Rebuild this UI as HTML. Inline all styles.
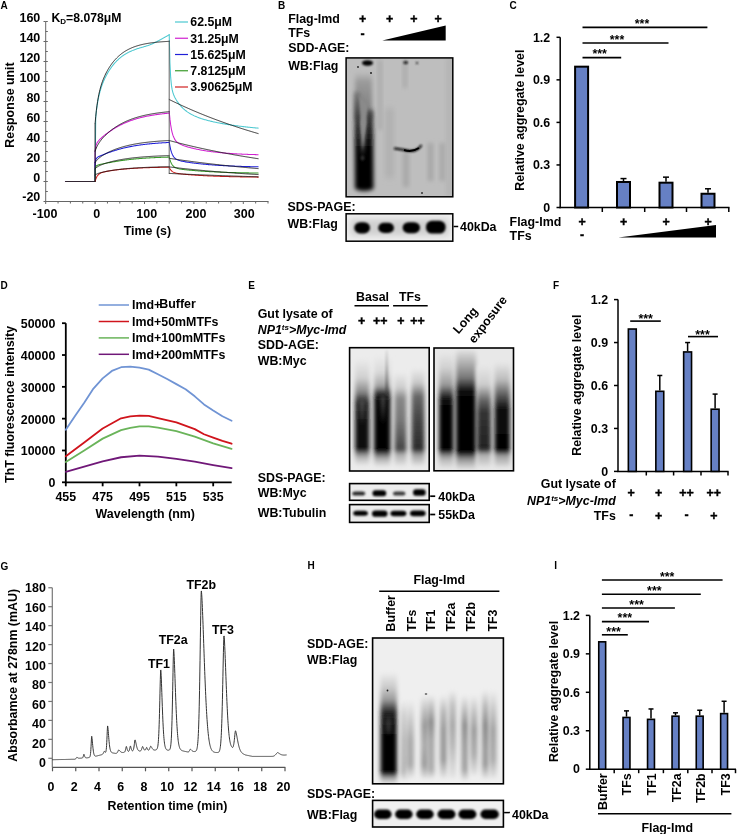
<!DOCTYPE html>
<html><head><meta charset="utf-8"><style>
html,body{margin:0;padding:0;background:#fff;width:737px;height:834px;overflow:hidden;}
svg{display:block;font-family:"Liberation Sans", sans-serif;will-change:transform;}
</style></head><body>
<svg width="737" height="834" viewBox="0 0 737 834">
<text x="0.50" y="9.00" font-size="10" font-weight="bold" text-anchor="start" fill="#000" >A</text>
<line x1="45.70" y1="21.50" x2="45.70" y2="201.50" stroke="#666" stroke-width="1" />
<line x1="45.20" y1="201.50" x2="268.50" y2="201.50" stroke="#666" stroke-width="1" />
<line x1="45.70" y1="201.50" x2="47.80" y2="201.50" stroke="#666" stroke-width="1" />
<line x1="45.70" y1="191.50" x2="47.80" y2="191.50" stroke="#666" stroke-width="1" />
<line x1="45.70" y1="181.50" x2="47.80" y2="181.50" stroke="#666" stroke-width="1" />
<line x1="45.70" y1="171.50" x2="47.80" y2="171.50" stroke="#666" stroke-width="1" />
<line x1="45.70" y1="161.50" x2="47.80" y2="161.50" stroke="#666" stroke-width="1" />
<line x1="45.70" y1="151.50" x2="47.80" y2="151.50" stroke="#666" stroke-width="1" />
<line x1="45.70" y1="141.50" x2="47.80" y2="141.50" stroke="#666" stroke-width="1" />
<line x1="45.70" y1="131.50" x2="47.80" y2="131.50" stroke="#666" stroke-width="1" />
<line x1="45.70" y1="121.50" x2="47.80" y2="121.50" stroke="#666" stroke-width="1" />
<line x1="45.70" y1="111.50" x2="47.80" y2="111.50" stroke="#666" stroke-width="1" />
<line x1="45.70" y1="101.50" x2="47.80" y2="101.50" stroke="#666" stroke-width="1" />
<line x1="45.70" y1="91.50" x2="47.80" y2="91.50" stroke="#666" stroke-width="1" />
<line x1="45.70" y1="81.50" x2="47.80" y2="81.50" stroke="#666" stroke-width="1" />
<line x1="45.70" y1="71.50" x2="47.80" y2="71.50" stroke="#666" stroke-width="1" />
<line x1="45.70" y1="61.50" x2="47.80" y2="61.50" stroke="#666" stroke-width="1" />
<line x1="45.70" y1="51.50" x2="47.80" y2="51.50" stroke="#666" stroke-width="1" />
<line x1="45.70" y1="41.50" x2="47.80" y2="41.50" stroke="#666" stroke-width="1" />
<line x1="45.70" y1="31.50" x2="47.80" y2="31.50" stroke="#666" stroke-width="1" />
<line x1="45.70" y1="21.50" x2="47.80" y2="21.50" stroke="#666" stroke-width="1" />
<line x1="43.50" y1="201.50" x2="45.70" y2="201.50" stroke="#666" stroke-width="1" />
<text x="40.30" y="200.60" font-size="12.5" font-weight="bold" text-anchor="end" fill="#000" >-20</text>
<line x1="43.50" y1="181.50" x2="45.70" y2="181.50" stroke="#666" stroke-width="1" />
<text x="40.30" y="182.30" font-size="12.5" font-weight="bold" text-anchor="end" fill="#000" >0</text>
<line x1="43.50" y1="161.50" x2="45.70" y2="161.50" stroke="#666" stroke-width="1" />
<text x="40.30" y="162.30" font-size="12.5" font-weight="bold" text-anchor="end" fill="#000" >20</text>
<line x1="43.50" y1="141.50" x2="45.70" y2="141.50" stroke="#666" stroke-width="1" />
<text x="40.30" y="142.30" font-size="12.5" font-weight="bold" text-anchor="end" fill="#000" >40</text>
<line x1="43.50" y1="121.50" x2="45.70" y2="121.50" stroke="#666" stroke-width="1" />
<text x="40.30" y="122.30" font-size="12.5" font-weight="bold" text-anchor="end" fill="#000" >60</text>
<line x1="43.50" y1="101.50" x2="45.70" y2="101.50" stroke="#666" stroke-width="1" />
<text x="40.30" y="102.30" font-size="12.5" font-weight="bold" text-anchor="end" fill="#000" >80</text>
<line x1="43.50" y1="81.50" x2="45.70" y2="81.50" stroke="#666" stroke-width="1" />
<text x="40.30" y="82.30" font-size="12.5" font-weight="bold" text-anchor="end" fill="#000" >100</text>
<line x1="43.50" y1="61.50" x2="45.70" y2="61.50" stroke="#666" stroke-width="1" />
<text x="40.30" y="62.30" font-size="12.5" font-weight="bold" text-anchor="end" fill="#000" >120</text>
<line x1="43.50" y1="41.50" x2="45.70" y2="41.50" stroke="#666" stroke-width="1" />
<text x="40.30" y="42.30" font-size="12.5" font-weight="bold" text-anchor="end" fill="#000" >140</text>
<line x1="43.50" y1="21.50" x2="45.70" y2="21.50" stroke="#666" stroke-width="1" />
<text x="40.30" y="22.30" font-size="12.5" font-weight="bold" text-anchor="end" fill="#000" >160</text>
<line x1="45.70" y1="201.50" x2="45.70" y2="204.00" stroke="#666" stroke-width="1" />
<line x1="58.05" y1="201.50" x2="58.05" y2="203.50" stroke="#666" stroke-width="1" />
<line x1="70.40" y1="201.50" x2="70.40" y2="203.50" stroke="#666" stroke-width="1" />
<line x1="82.75" y1="201.50" x2="82.75" y2="203.50" stroke="#666" stroke-width="1" />
<line x1="95.10" y1="201.50" x2="95.10" y2="204.00" stroke="#666" stroke-width="1" />
<line x1="107.45" y1="201.50" x2="107.45" y2="203.50" stroke="#666" stroke-width="1" />
<line x1="119.80" y1="201.50" x2="119.80" y2="203.50" stroke="#666" stroke-width="1" />
<line x1="132.15" y1="201.50" x2="132.15" y2="203.50" stroke="#666" stroke-width="1" />
<line x1="144.50" y1="201.50" x2="144.50" y2="204.00" stroke="#666" stroke-width="1" />
<line x1="156.85" y1="201.50" x2="156.85" y2="203.50" stroke="#666" stroke-width="1" />
<line x1="169.20" y1="201.50" x2="169.20" y2="203.50" stroke="#666" stroke-width="1" />
<line x1="181.55" y1="201.50" x2="181.55" y2="203.50" stroke="#666" stroke-width="1" />
<line x1="193.90" y1="201.50" x2="193.90" y2="204.00" stroke="#666" stroke-width="1" />
<line x1="206.25" y1="201.50" x2="206.25" y2="203.50" stroke="#666" stroke-width="1" />
<line x1="218.60" y1="201.50" x2="218.60" y2="203.50" stroke="#666" stroke-width="1" />
<line x1="230.95" y1="201.50" x2="230.95" y2="203.50" stroke="#666" stroke-width="1" />
<line x1="243.30" y1="201.50" x2="243.30" y2="204.00" stroke="#666" stroke-width="1" />
<line x1="255.65" y1="201.50" x2="255.65" y2="203.50" stroke="#666" stroke-width="1" />
<line x1="268.00" y1="201.50" x2="268.00" y2="203.50" stroke="#666" stroke-width="1" />
<text x="45.00" y="218.40" font-size="12.5" font-weight="bold" text-anchor="middle" fill="#000" >-100</text>
<text x="96.70" y="218.40" font-size="12.5" font-weight="bold" text-anchor="middle" fill="#000" >0</text>
<text x="146.70" y="218.40" font-size="12.5" font-weight="bold" text-anchor="middle" fill="#000" >100</text>
<text x="196.00" y="218.40" font-size="12.5" font-weight="bold" text-anchor="middle" fill="#000" >200</text>
<text x="244.30" y="218.40" font-size="12.5" font-weight="bold" text-anchor="middle" fill="#000" >300</text>
<text x="147.40" y="234.50" font-size="12.4" font-weight="bold" text-anchor="middle" fill="#000" >Time (s)</text>
<text transform="translate(14.00,105.00) rotate(-90)" font-size="12.4" font-weight="bold" text-anchor="middle" >Response unit</text>
<text x="51.5" y="21.5" font-size="12.2" font-weight="bold">K<tspan font-size="8" dy="2.5">D</tspan><tspan dy="-2.5">=8.078μM</tspan></text>
<line x1="175.00" y1="22.00" x2="188.00" y2="22.00" stroke="#4cc8d0" stroke-width="1.2" />
<text x="190.30" y="26.30" font-size="12.3" font-weight="bold" text-anchor="start" fill="#000" >62.5μM</text>
<line x1="175.00" y1="38.25" x2="188.00" y2="38.25" stroke="#d020d0" stroke-width="1.2" />
<text x="190.30" y="42.55" font-size="12.3" font-weight="bold" text-anchor="start" fill="#000" >31.25μM</text>
<line x1="175.00" y1="54.50" x2="188.00" y2="54.50" stroke="#2020d8" stroke-width="1.2" />
<text x="190.30" y="58.80" font-size="12.3" font-weight="bold" text-anchor="start" fill="#000" >15.625μM</text>
<line x1="175.00" y1="70.75" x2="188.00" y2="70.75" stroke="#3a9a2a" stroke-width="1.2" />
<text x="190.30" y="75.05" font-size="12.3" font-weight="bold" text-anchor="start" fill="#000" >7.8125μM</text>
<line x1="175.00" y1="87.00" x2="188.00" y2="87.00" stroke="#d02020" stroke-width="1.2" />
<text x="190.30" y="91.30" font-size="12.3" font-weight="bold" text-anchor="start" fill="#000" >3.90625μM</text>
<polyline points="65.46,181.50 95.10,181.50" fill="none" stroke="#b040b0" stroke-width="1.2" stroke-linejoin="round" stroke-linecap="round" />
<polyline points="95.10,181.50 95.10,181.50 95.72,117.83 96.33,111.46 96.95,106.82 97.57,102.87 98.19,99.45 98.80,96.47 99.42,93.82 100.04,91.46 100.66,89.32 101.27,87.36 101.89,85.55 102.51,83.87 103.13,82.30 103.74,80.83 104.36,79.43 104.98,78.10 105.60,76.84 106.21,75.64 106.83,74.48 107.45,73.38 108.07,72.32 108.68,71.30 109.30,70.32 109.92,69.37 110.54,68.46 111.16,67.58 111.77,66.74 112.39,65.92 113.01,65.14 113.62,64.38 114.24,63.65 114.86,62.94 115.48,62.26 116.09,61.60 116.71,60.97 117.33,60.36 117.95,59.76 118.56,59.19 119.18,58.64 119.80,58.11 120.42,57.60 121.03,57.11 121.65,56.63 122.27,56.17 122.89,55.72 123.50,55.29 124.12,54.88 124.74,54.48 125.36,54.10 125.97,53.72 126.59,53.36 127.21,53.02 127.83,52.68 128.44,52.36 129.06,52.05 129.68,51.74 130.30,51.45 130.91,51.17 131.53,50.90 132.15,50.64 132.77,50.38 133.38,50.14 134.00,49.90 134.62,49.67 135.24,49.44 135.85,49.23 136.47,49.02 137.09,48.81 137.71,48.61 138.32,48.42 138.94,48.22 139.56,48.04 140.18,47.85 140.79,47.67 141.41,47.49 142.03,47.32 142.65,47.14 143.26,46.96 143.88,46.78 144.50,46.60 145.12,46.42 145.73,46.23 146.35,46.04 146.97,45.84 147.59,45.64 148.20,45.43 148.82,45.21 149.44,44.98 150.06,44.75 150.68,44.50 151.29,44.25 151.91,43.99 152.53,43.71 153.14,43.44 153.76,43.15 154.38,42.85 155.00,42.55 155.62,42.24 156.23,41.93 156.85,41.61 157.47,41.28 158.08,40.95 158.70,40.62 159.32,40.29 159.94,39.95 160.56,39.61 161.17,39.27 161.79,38.93 162.41,38.59 163.02,38.24 163.64,37.90 164.26,37.56 164.88,37.21 165.50,36.87 166.11,36.53 166.73,36.19 167.35,35.84 167.96,35.50 168.58,35.16 169.20,34.82" fill="none" stroke="#4cc8d0" stroke-width="1.05" stroke-linejoin="round" stroke-linecap="round" />
<polyline points="169.20,34.50 169.94,62.99 170.68,77.42 171.42,85.15 172.16,89.66 172.90,92.60 173.65,94.74 174.39,96.46 175.13,97.94 175.87,99.27 176.61,100.48 177.35,101.61 178.09,102.67 178.83,103.67 179.57,104.60 180.31,105.49 181.06,106.32 181.80,107.11 182.54,107.85 183.28,108.56 184.02,109.23 184.76,109.87 185.50,110.47 186.24,111.04 186.98,111.59 187.72,112.11 188.47,112.60 189.21,113.07 189.95,113.53 190.69,113.96 191.43,114.37 192.17,114.77 192.91,115.14 193.65,115.51 194.39,115.86 195.13,116.19 195.88,116.52 196.62,116.83 197.36,117.13 198.10,117.42 198.84,117.70 199.58,117.97 200.32,118.23 201.06,118.49 201.80,118.73 202.54,118.97 203.29,119.20 204.03,119.43 204.77,119.65 205.51,119.86 206.25,120.07 206.99,120.27 207.73,120.46 208.47,120.66 209.21,120.84 209.95,121.03 210.70,121.21 211.44,121.38 212.18,121.55 212.92,121.72 213.66,121.89 214.40,122.05 215.14,122.20 215.88,122.36 216.62,122.51 217.37,122.66 218.11,122.81 218.85,122.95 219.59,123.09 220.33,123.23 221.07,123.36 221.81,123.50 222.55,123.63 223.29,123.76 224.03,123.89 224.78,124.01 225.52,124.13 226.26,124.26 227.00,124.38 227.74,124.49 228.48,124.61 229.22,124.72 229.96,124.84 230.70,124.95 231.44,125.06 232.19,125.16 232.93,125.27 233.67,125.37 234.41,125.48 235.15,125.58 235.89,125.68 236.63,125.78 237.37,125.88 238.11,125.97 238.85,126.07 239.59,126.16 240.34,126.25 241.08,126.34 241.82,126.43 242.56,126.52 243.30,126.61 244.04,126.70 244.78,126.78 245.52,126.87 246.26,126.95 247.00,127.03 247.75,127.11 248.49,127.19 249.23,127.27 249.97,127.35 250.71,127.43 251.45,127.50 252.19,127.58 252.93,127.65 253.67,127.72 254.41,127.80 255.16,127.87 255.90,127.94 256.64,128.01 257.38,128.07 258.12,128.14" fill="none" stroke="#4cc8d0" stroke-width="1.05" stroke-linejoin="round" stroke-linecap="round" />
<polyline points="95.10,181.50 95.10,151.20 95.72,146.91 96.33,144.60 96.95,143.14 97.57,142.09 98.19,141.24 98.80,140.49 99.42,139.82 100.04,139.19 100.66,138.60 101.27,138.03 101.89,137.49 102.51,136.96 103.13,136.44 103.74,135.94 104.36,135.45 104.98,134.96 105.60,134.48 106.21,134.02 106.83,133.55 107.45,133.10 108.07,132.65 108.68,132.21 109.30,131.78 109.92,131.35 110.54,130.93 111.16,130.51 111.77,130.10 112.39,129.70 113.01,129.31 113.62,128.92 114.24,128.54 114.86,128.16 115.48,127.80 116.09,127.43 116.71,127.08 117.33,126.73 117.95,126.39 118.56,126.05 119.18,125.72 119.80,125.40 120.42,125.09 121.03,124.77 121.65,124.47 122.27,124.17 122.89,123.88 123.50,123.59 124.12,123.31 124.74,123.04 125.36,122.77 125.97,122.51 126.59,122.25 127.21,121.99 127.83,121.75 128.44,121.50 129.06,121.27 129.68,121.03 130.30,120.81 130.91,120.58 131.53,120.37 132.15,120.15 132.77,119.95 133.38,119.74 134.00,119.54 134.62,119.35 135.24,119.15 135.85,118.97 136.47,118.78 137.09,118.61 137.71,118.43 138.32,118.26 138.94,118.09 139.56,117.93 140.18,117.77 140.79,117.61 141.41,117.46 142.03,117.31 142.65,117.16 143.26,117.02 143.88,116.88 144.50,116.74 145.12,116.60 145.73,116.47 146.35,116.34 146.97,116.22 147.59,116.10 148.20,115.98 148.82,115.86 149.44,115.74 150.06,115.63 150.68,115.52 151.29,115.41 151.91,115.31 152.53,115.21 153.14,115.11 153.76,115.01 154.38,114.91 155.00,114.82 155.62,114.73 156.23,114.64 156.85,114.55 157.47,114.46 158.08,114.38 158.70,114.30 159.32,114.22 159.94,114.14 160.56,114.06 161.17,113.99 161.79,113.91 162.41,113.84 163.02,113.77 163.64,113.70 164.26,113.63 164.88,113.57 165.50,113.51 166.11,113.44 166.73,113.38 167.35,113.32 167.96,113.26 168.58,113.21 169.20,113.15" fill="none" stroke="#d020d0" stroke-width="1.05" stroke-linejoin="round" stroke-linecap="round" />
<polyline points="169.20,111.50 169.94,119.15 170.68,124.91 171.42,129.27 172.16,132.59 172.90,135.13 173.65,137.10 174.39,138.64 175.13,139.86 175.87,140.84 176.61,141.65 177.35,142.31 178.09,142.88 178.83,143.37 179.57,143.81 180.31,144.19 181.06,144.54 181.80,144.87 182.54,145.17 183.28,145.46 184.02,145.73 184.76,145.98 185.50,146.23 186.24,146.47 186.98,146.70 187.72,146.92 188.47,147.14 189.21,147.34 189.95,147.55 190.69,147.75 191.43,147.94 192.17,148.13 192.91,148.31 193.65,148.49 194.39,148.66 195.13,148.83 195.88,148.99 196.62,149.16 197.36,149.31 198.10,149.46 198.84,149.61 199.58,149.76 200.32,149.90 201.06,150.04 201.80,150.17 202.54,150.31 203.29,150.43 204.03,150.56 204.77,150.68 205.51,150.80 206.25,150.92 206.99,151.03 207.73,151.14 208.47,151.25 209.21,151.35 209.95,151.45 210.70,151.55 211.44,151.65 212.18,151.75 212.92,151.84 213.66,151.93 214.40,152.02 215.14,152.10 215.88,152.19 216.62,152.27 217.37,152.35 218.11,152.43 218.85,152.50 219.59,152.58 220.33,152.65 221.07,152.72 221.81,152.79 222.55,152.86 223.29,152.92 224.03,152.98 224.78,153.05 225.52,153.11 226.26,153.17 227.00,153.22 227.74,153.28 228.48,153.33 229.22,153.39 229.96,153.44 230.70,153.49 231.44,153.54 232.19,153.59 232.93,153.64 233.67,153.68 234.41,153.73 235.15,153.77 235.89,153.81 236.63,153.86 237.37,153.90 238.11,153.94 238.85,153.97 239.59,154.01 240.34,154.05 241.08,154.08 241.82,154.12 242.56,154.15 243.30,154.19 244.04,154.22 244.78,154.25 245.52,154.28 246.26,154.31 247.00,154.34 247.75,154.37 248.49,154.40 249.23,154.42 249.97,154.45 250.71,154.48 251.45,154.50 252.19,154.53 252.93,154.55 253.67,154.57 254.41,154.60 255.16,154.62 255.90,154.64 256.64,154.66 257.38,154.68 258.12,154.70" fill="none" stroke="#d020d0" stroke-width="1.05" stroke-linejoin="round" stroke-linecap="round" />
<polyline points="95.10,181.50 95.10,162.60 95.72,159.92 96.33,158.58 96.95,157.80 97.57,157.28 98.19,156.88 98.80,156.54 99.42,156.23 100.04,155.94 100.66,155.67 101.27,155.41 101.89,155.15 102.51,154.91 103.13,154.66 103.74,154.42 104.36,154.18 104.98,153.95 105.60,153.71 106.21,153.48 106.83,153.25 107.45,153.03 108.07,152.80 108.68,152.58 109.30,152.36 109.92,152.15 110.54,151.93 111.16,151.72 111.77,151.51 112.39,151.31 113.01,151.10 113.62,150.90 114.24,150.71 114.86,150.51 115.48,150.32 116.09,150.13 116.71,149.95 117.33,149.76 117.95,149.58 118.56,149.41 119.18,149.23 119.80,149.06 120.42,148.90 121.03,148.73 121.65,148.57 122.27,148.41 122.89,148.26 123.50,148.11 124.12,147.96 124.74,147.81 125.36,147.67 125.97,147.53 126.59,147.39 127.21,147.25 127.83,147.12 128.44,146.99 129.06,146.87 129.68,146.74 130.30,146.62 130.91,146.50 131.53,146.38 132.15,146.27 132.77,146.16 133.38,146.05 134.00,145.94 134.62,145.83 135.24,145.73 135.85,145.63 136.47,145.53 137.09,145.43 137.71,145.34 138.32,145.25 138.94,145.16 139.56,145.07 140.18,144.98 140.79,144.89 141.41,144.81 142.03,144.73 142.65,144.65 143.26,144.57 143.88,144.50 144.50,144.42 145.12,144.35 145.73,144.28 146.35,144.21 146.97,144.14 147.59,144.07 148.20,144.01 148.82,143.94 149.44,143.88 150.06,143.82 150.68,143.76 151.29,143.70 151.91,143.64 152.53,143.59 153.14,143.53 153.76,143.48 154.38,143.43 155.00,143.37 155.62,143.32 156.23,143.27 156.85,143.23 157.47,143.18 158.08,143.13 158.70,143.09 159.32,143.04 159.94,143.00 160.56,142.96 161.17,142.92 161.79,142.88 162.41,142.84 163.02,142.80 163.64,142.76 164.26,142.73 164.88,142.69 165.50,142.65 166.11,142.62 166.73,142.59 167.35,142.55 167.96,142.52 168.58,142.49 169.20,142.46" fill="none" stroke="#2020d8" stroke-width="1.05" stroke-linejoin="round" stroke-linecap="round" />
<polyline points="169.20,141.50 169.94,146.10 170.68,149.55 171.42,152.15 172.16,154.12 172.90,155.62 173.65,156.78 174.39,157.67 175.13,158.38 175.87,158.94 176.61,159.39 177.35,159.76 178.09,160.08 178.83,160.34 179.57,160.58 180.31,160.79 181.06,160.97 181.80,161.14 182.54,161.30 183.28,161.45 184.02,161.59 184.76,161.73 185.50,161.86 186.24,161.98 186.98,162.11 187.72,162.22 188.47,162.34 189.21,162.45 189.95,162.56 190.69,162.66 191.43,162.77 192.17,162.87 192.91,162.97 193.65,163.06 194.39,163.16 195.13,163.25 195.88,163.34 196.62,163.43 197.36,163.51 198.10,163.60 198.84,163.68 199.58,163.76 200.32,163.84 201.06,163.92 201.80,163.99 202.54,164.07 203.29,164.14 204.03,164.21 204.77,164.28 205.51,164.35 206.25,164.42 206.99,164.48 207.73,164.55 208.47,164.61 209.21,164.67 209.95,164.73 210.70,164.79 211.44,164.85 212.18,164.90 212.92,164.96 213.66,165.01 214.40,165.06 215.14,165.12 215.88,165.17 216.62,165.22 217.37,165.26 218.11,165.31 218.85,165.36 219.59,165.40 220.33,165.45 221.07,165.49 221.81,165.53 222.55,165.58 223.29,165.62 224.03,165.66 224.78,165.70 225.52,165.73 226.26,165.77 227.00,165.81 227.74,165.84 228.48,165.88 229.22,165.91 229.96,165.95 230.70,165.98 231.44,166.01 232.19,166.04 232.93,166.07 233.67,166.10 234.41,166.13 235.15,166.16 235.89,166.19 236.63,166.22 237.37,166.25 238.11,166.27 238.85,166.30 239.59,166.32 240.34,166.35 241.08,166.37 241.82,166.40 242.56,166.42 243.30,166.44 244.04,166.47 244.78,166.49 245.52,166.51 246.26,166.53 247.00,166.55 247.75,166.57 248.49,166.59 249.23,166.61 249.97,166.63 250.71,166.65 251.45,166.67 252.19,166.68 252.93,166.70 253.67,166.72 254.41,166.73 255.16,166.75 255.90,166.77 256.64,166.78 257.38,166.80 258.12,166.81" fill="none" stroke="#2020d8" stroke-width="1.05" stroke-linejoin="round" stroke-linecap="round" />
<polyline points="95.10,181.50 95.10,168.80 95.72,166.93 96.33,166.03 96.95,165.53 97.57,165.21 98.19,164.98 98.80,164.79 99.42,164.63 100.04,164.47 100.66,164.33 101.27,164.20 101.89,164.07 102.51,163.94 103.13,163.82 103.74,163.69 104.36,163.57 104.98,163.45 105.60,163.33 106.21,163.21 106.83,163.09 107.45,162.97 108.07,162.85 108.68,162.73 109.30,162.62 109.92,162.50 110.54,162.39 111.16,162.27 111.77,162.16 112.39,162.05 113.01,161.94 113.62,161.83 114.24,161.72 114.86,161.62 115.48,161.51 116.09,161.41 116.71,161.30 117.33,161.20 117.95,161.11 118.56,161.01 119.18,160.91 119.80,160.82 120.42,160.72 121.03,160.63 121.65,160.54 122.27,160.46 122.89,160.37 123.50,160.28 124.12,160.20 124.74,160.12 125.36,160.04 125.97,159.96 126.59,159.88 127.21,159.81 127.83,159.73 128.44,159.66 129.06,159.59 129.68,159.52 130.30,159.45 130.91,159.38 131.53,159.31 132.15,159.25 132.77,159.19 133.38,159.12 134.00,159.06 134.62,159.00 135.24,158.95 135.85,158.89 136.47,158.83 137.09,158.78 137.71,158.72 138.32,158.67 138.94,158.62 139.56,158.57 140.18,158.52 140.79,158.47 141.41,158.42 142.03,158.38 142.65,158.33 143.26,158.29 143.88,158.25 144.50,158.20 145.12,158.16 145.73,158.12 146.35,158.08 146.97,158.04 147.59,158.00 148.20,157.97 148.82,157.93 149.44,157.89 150.06,157.86 150.68,157.83 151.29,157.79 151.91,157.76 152.53,157.73 153.14,157.70 153.76,157.66 154.38,157.63 155.00,157.61 155.62,157.58 156.23,157.55 156.85,157.52 157.47,157.49 158.08,157.47 158.70,157.44 159.32,157.42 159.94,157.39 160.56,157.37 161.17,157.35 161.79,157.32 162.41,157.30 163.02,157.28 163.64,157.26 164.26,157.23 164.88,157.21 165.50,157.19 166.11,157.17 166.73,157.16 167.35,157.14 167.96,157.12 168.58,157.10 169.20,157.08" fill="none" stroke="#3a9a2a" stroke-width="1.05" stroke-linejoin="round" stroke-linecap="round" />
<polyline points="169.20,156.80 169.94,159.70 170.68,161.88 171.42,163.52 172.16,164.77 172.90,165.72 173.65,166.46 174.39,167.03 175.13,167.47 175.87,167.83 176.61,168.12 177.35,168.37 178.09,168.57 178.83,168.74 179.57,168.89 180.31,169.03 181.06,169.15 181.80,169.27 182.54,169.37 183.28,169.47 184.02,169.56 184.76,169.65 185.50,169.74 186.24,169.82 186.98,169.90 187.72,169.98 188.47,170.06 189.21,170.13 189.95,170.20 190.69,170.28 191.43,170.34 192.17,170.41 192.91,170.48 193.65,170.54 194.39,170.60 195.13,170.67 195.88,170.73 196.62,170.78 197.36,170.84 198.10,170.90 198.84,170.95 199.58,171.01 200.32,171.06 201.06,171.11 201.80,171.16 202.54,171.21 203.29,171.26 204.03,171.31 204.77,171.35 205.51,171.40 206.25,171.44 206.99,171.49 207.73,171.53 208.47,171.57 209.21,171.61 209.95,171.65 210.70,171.69 211.44,171.73 212.18,171.77 212.92,171.81 213.66,171.84 214.40,171.88 215.14,171.91 215.88,171.94 216.62,171.98 217.37,172.01 218.11,172.04 218.85,172.07 219.59,172.10 220.33,172.13 221.07,172.16 221.81,172.19 222.55,172.22 223.29,172.24 224.03,172.27 224.78,172.30 225.52,172.32 226.26,172.35 227.00,172.37 227.74,172.40 228.48,172.42 229.22,172.44 229.96,172.46 230.70,172.49 231.44,172.51 232.19,172.53 232.93,172.55 233.67,172.57 234.41,172.59 235.15,172.61 235.89,172.63 236.63,172.65 237.37,172.66 238.11,172.68 238.85,172.70 239.59,172.72 240.34,172.73 241.08,172.75 241.82,172.77 242.56,172.78 243.30,172.80 244.04,172.81 244.78,172.83 245.52,172.84 246.26,172.85 247.00,172.87 247.75,172.88 248.49,172.89 249.23,172.91 249.97,172.92 250.71,172.93 251.45,172.94 252.19,172.96 252.93,172.97 253.67,172.98 254.41,172.99 255.16,173.00 255.90,173.01 256.64,173.02 257.38,173.03 258.12,173.04" fill="none" stroke="#3a9a2a" stroke-width="1.05" stroke-linejoin="round" stroke-linecap="round" />
<polyline points="95.10,181.50 95.10,181.50 95.72,179.36 96.33,177.75 96.95,176.52 97.57,175.57 98.19,174.83 98.80,174.25 99.42,173.78 100.04,173.41 100.66,173.09 101.27,172.82 101.89,172.59 102.51,172.39 103.13,172.21 103.74,172.04 104.36,171.89 104.98,171.75 105.60,171.62 106.21,171.49 106.83,171.37 107.45,171.25 108.07,171.14 108.68,171.03 109.30,170.93 109.92,170.83 110.54,170.73 111.16,170.63 111.77,170.54 112.39,170.45 113.01,170.36 113.62,170.27 114.24,170.19 114.86,170.10 115.48,170.02 116.09,169.94 116.71,169.87 117.33,169.79 117.95,169.72 118.56,169.65 119.18,169.58 119.80,169.51 120.42,169.44 121.03,169.38 121.65,169.31 122.27,169.25 122.89,169.19 123.50,169.13 124.12,169.08 124.74,169.02 125.36,168.97 125.97,168.91 126.59,168.86 127.21,168.81 127.83,168.76 128.44,168.71 129.06,168.66 129.68,168.62 130.30,168.57 130.91,168.53 131.53,168.49 132.15,168.44 132.77,168.40 133.38,168.36 134.00,168.33 134.62,168.29 135.24,168.25 135.85,168.22 136.47,168.18 137.09,168.15 137.71,168.11 138.32,168.08 138.94,168.05 139.56,168.02 140.18,167.99 140.79,167.96 141.41,167.93 142.03,167.90 142.65,167.88 143.26,167.85 143.88,167.82 144.50,167.80 145.12,167.78 145.73,167.75 146.35,167.73 146.97,167.71 147.59,167.68 148.20,167.66 148.82,167.64 149.44,167.62 150.06,167.60 150.68,167.58 151.29,167.57 151.91,167.55 152.53,167.53 153.14,167.51 153.76,167.50 154.38,167.48 155.00,167.46 155.62,167.45 156.23,167.43 156.85,167.42 157.47,167.41 158.08,167.39 158.70,167.38 159.32,167.37 159.94,167.35 160.56,167.34 161.17,167.33 161.79,167.32 162.41,167.31 163.02,167.30 163.64,167.29 164.26,167.28 164.88,167.27 165.50,167.26 166.11,167.25 166.73,167.24 167.35,167.23 167.96,167.23 168.58,167.22 169.20,167.21" fill="none" stroke="#d02020" stroke-width="1.05" stroke-linejoin="round" stroke-linecap="round" />
<polyline points="169.20,167.40 169.94,168.83 170.68,169.91 171.42,170.74 172.16,171.37 172.90,171.87 173.65,172.26 174.39,172.57 175.13,172.83 175.87,173.03 176.61,173.21 177.35,173.36 178.09,173.49 178.83,173.61 179.57,173.72 180.31,173.82 181.06,173.91 181.80,174.00 182.54,174.08 183.28,174.16 184.02,174.23 184.76,174.30 185.50,174.37 186.24,174.44 186.98,174.51 187.72,174.57 188.47,174.63 189.21,174.69 189.95,174.75 190.69,174.81 191.43,174.87 192.17,174.93 192.91,174.98 193.65,175.03 194.39,175.09 195.13,175.14 195.88,175.19 196.62,175.24 197.36,175.29 198.10,175.33 198.84,175.38 199.58,175.42 200.32,175.47 201.06,175.51 201.80,175.55 202.54,175.59 203.29,175.63 204.03,175.67 204.77,175.71 205.51,175.75 206.25,175.79 206.99,175.82 207.73,175.86 208.47,175.89 209.21,175.93 209.95,175.96 210.70,175.99 211.44,176.03 212.18,176.06 212.92,176.09 213.66,176.12 214.40,176.15 215.14,176.18 215.88,176.20 216.62,176.23 217.37,176.26 218.11,176.28 218.85,176.31 219.59,176.34 220.33,176.36 221.07,176.38 221.81,176.41 222.55,176.43 223.29,176.45 224.03,176.48 224.78,176.50 225.52,176.52 226.26,176.54 227.00,176.56 227.74,176.58 228.48,176.60 229.22,176.62 229.96,176.64 230.70,176.66 231.44,176.67 232.19,176.69 232.93,176.71 233.67,176.72 234.41,176.74 235.15,176.76 235.89,176.77 236.63,176.79 237.37,176.80 238.11,176.82 238.85,176.83 239.59,176.85 240.34,176.86 241.08,176.87 241.82,176.89 242.56,176.90 243.30,176.91 244.04,176.93 244.78,176.94 245.52,176.95 246.26,176.96 247.00,176.97 247.75,176.98 248.49,177.00 249.23,177.01 249.97,177.02 250.71,177.03 251.45,177.04 252.19,177.05 252.93,177.06 253.67,177.07 254.41,177.07 255.16,177.08 255.90,177.09 256.64,177.10 257.38,177.11 258.12,177.12" fill="none" stroke="#d02020" stroke-width="1.05" stroke-linejoin="round" stroke-linecap="round" />
<polyline points="95.10,123.50 95.72,116.49 96.33,110.64 96.95,105.69 97.57,101.47 98.19,97.83 98.80,94.64 99.42,91.83 100.04,89.32 100.66,87.05 101.27,84.99 101.89,83.09 102.51,81.33 103.13,79.70 103.74,78.16 104.36,76.72 104.98,75.35 105.60,74.05 106.21,72.82 106.83,71.64 107.45,70.51 108.07,69.43 108.68,68.39 109.30,67.40 109.92,66.44 110.54,65.52 111.16,64.64 111.77,63.78 112.39,62.96 113.01,62.17 113.62,61.41 114.24,60.67 114.86,59.96 115.48,59.28 116.09,58.62 116.71,57.98 117.33,57.37 117.95,56.77 118.56,56.20 119.18,55.65 119.80,55.12 120.42,54.61 121.03,54.11 121.65,53.63 122.27,53.17 122.89,52.73 123.50,52.30 124.12,51.89 124.74,51.49 125.36,51.10 125.97,50.73 126.59,50.37 127.21,50.02 127.83,49.69 128.44,49.37 129.06,49.06 129.68,48.76 130.30,48.47 130.91,48.19 131.53,47.92 132.15,47.66 132.77,47.41 133.38,47.16 134.00,46.93 134.62,46.70 135.24,46.49 135.85,46.28 136.47,46.07 137.09,45.88 137.71,45.69 138.32,45.51 138.94,45.33 139.56,45.16 140.18,45.00 140.79,44.84 141.41,44.69 142.03,44.54 142.65,44.40 143.26,44.26 143.88,44.13 144.50,44.00 145.12,43.88 145.73,43.76 146.35,43.65 146.97,43.54 147.59,43.43 148.20,43.33 148.82,43.23 149.44,43.13 150.06,43.04 150.68,42.95 151.29,42.87 151.91,42.78 152.53,42.70 153.14,42.62 153.76,42.55 154.38,42.48 155.00,42.41 155.62,42.34 156.23,42.28 156.85,42.22 157.47,42.15 158.08,42.10 158.70,42.04 159.32,41.99 159.94,41.93 160.56,41.88 161.17,41.84 161.79,41.79 162.41,41.74 163.02,41.70 163.64,41.66 164.26,41.62 164.88,41.58 165.50,41.54 166.11,41.50 166.73,41.47 167.35,41.43 167.96,41.40 168.58,41.37 169.20,41.34" fill="none" stroke="#111" stroke-width="0.85" stroke-linejoin="round" stroke-linecap="round" />
<polyline points="169.20,99.50 169.94,99.87 170.68,100.23 171.42,100.59 172.16,100.95 172.90,101.31 173.65,101.67 174.39,102.03 175.13,102.38 175.87,102.73 176.61,103.08 177.35,103.43 178.09,103.78 178.83,104.13 179.57,104.47 180.31,104.82 181.06,105.16 181.80,105.50 182.54,105.84 183.28,106.18 184.02,106.51 184.76,106.85 185.50,107.18 186.24,107.51 186.98,107.84 187.72,108.17 188.47,108.50 189.21,108.82 189.95,109.15 190.69,109.47 191.43,109.79 192.17,110.11 192.91,110.43 193.65,110.75 194.39,111.06 195.13,111.38 195.88,111.69 196.62,112.00 197.36,112.31 198.10,112.62 198.84,112.93 199.58,113.23 200.32,113.54 201.06,113.84 201.80,114.14 202.54,114.44 203.29,114.74 204.03,115.04 204.77,115.33 205.51,115.63 206.25,115.92 206.99,116.22 207.73,116.51 208.47,116.80 209.21,117.09 209.95,117.37 210.70,117.66 211.44,117.94 212.18,118.23 212.92,118.51 213.66,118.79 214.40,119.07 215.14,119.35 215.88,119.63 216.62,119.90 217.37,120.18 218.11,120.45 218.85,120.72 219.59,120.99 220.33,121.26 221.07,121.53 221.81,121.80 222.55,122.07 223.29,122.33 224.03,122.59 224.78,122.86 225.52,123.12 226.26,123.38 227.00,123.64 227.74,123.90 228.48,124.15 229.22,124.41 229.96,124.66 230.70,124.92 231.44,125.17 232.19,125.42 232.93,125.67 233.67,125.92 234.41,126.17 235.15,126.41 235.89,126.66 236.63,126.90 237.37,127.15 238.11,127.39 238.85,127.63 239.59,127.87 240.34,128.11 241.08,128.35 241.82,128.59 242.56,128.82 243.30,129.06 244.04,129.29 244.78,129.52 245.52,129.76 246.26,129.99 247.00,130.22 247.75,130.45 248.49,130.67 249.23,130.90 249.97,131.13 250.71,131.35 251.45,131.57 252.19,131.80 252.93,132.02 253.67,132.24 254.41,132.46 255.16,132.68 255.90,132.89 256.64,133.11 257.38,133.33 258.12,133.54" fill="none" stroke="#111" stroke-width="0.85" stroke-linejoin="round" stroke-linecap="round" />
<polyline points="95.10,151.20 95.72,149.46 96.33,147.94 96.95,146.58 97.57,145.37 98.19,144.26 98.80,143.25 99.42,142.31 100.04,141.42 100.66,140.59 101.27,139.80 101.89,139.05 102.51,138.33 103.13,137.63 103.74,136.96 104.36,136.32 104.98,135.69 105.60,135.08 106.21,134.49 106.83,133.91 107.45,133.35 108.07,132.80 108.68,132.26 109.30,131.74 109.92,131.23 110.54,130.74 111.16,130.25 111.77,129.78 112.39,129.31 113.01,128.86 113.62,128.42 114.24,127.99 114.86,127.56 115.48,127.15 116.09,126.75 116.71,126.35 117.33,125.97 117.95,125.59 118.56,125.22 119.18,124.86 119.80,124.51 120.42,124.17 121.03,123.83 121.65,123.50 122.27,123.18 122.89,122.87 123.50,122.56 124.12,122.26 124.74,121.96 125.36,121.68 125.97,121.40 126.59,121.12 127.21,120.86 127.83,120.59 128.44,120.34 129.06,120.09 129.68,119.84 130.30,119.60 130.91,119.37 131.53,119.14 132.15,118.92 132.77,118.70 133.38,118.49 134.00,118.28 134.62,118.07 135.24,117.87 135.85,117.68 136.47,117.49 137.09,117.30 137.71,117.12 138.32,116.94 138.94,116.77 139.56,116.60 140.18,116.43 140.79,116.27 141.41,116.11 142.03,115.96 142.65,115.80 143.26,115.66 143.88,115.51 144.50,115.37 145.12,115.23 145.73,115.09 146.35,114.96 146.97,114.83 147.59,114.71 148.20,114.58 148.82,114.46 149.44,114.34 150.06,114.23 150.68,114.11 151.29,114.00 151.91,113.90 152.53,113.79 153.14,113.69 153.76,113.59 154.38,113.49 155.00,113.39 155.62,113.30 156.23,113.21 156.85,113.12 157.47,113.03 158.08,112.94 158.70,112.86 159.32,112.77 159.94,112.69 160.56,112.62 161.17,112.54 161.79,112.46 162.41,112.39 163.02,112.32 163.64,112.25 164.26,112.18 164.88,112.11 165.50,112.05 166.11,111.98 166.73,111.92 167.35,111.86 167.96,111.80 168.58,111.74 169.20,111.69" fill="none" stroke="#111" stroke-width="0.85" stroke-linejoin="round" stroke-linecap="round" />
<polyline points="169.20,140.50 169.94,140.70 170.68,140.90 171.42,141.10 172.16,141.29 172.90,141.49 173.65,141.69 174.39,141.88 175.13,142.07 175.87,142.27 176.61,142.46 177.35,142.65 178.09,142.84 178.83,143.03 179.57,143.21 180.31,143.40 181.06,143.59 181.80,143.77 182.54,143.95 183.28,144.14 184.02,144.32 184.76,144.50 185.50,144.68 186.24,144.86 186.98,145.04 187.72,145.22 188.47,145.39 189.21,145.57 189.95,145.75 190.69,145.92 191.43,146.09 192.17,146.27 192.91,146.44 193.65,146.61 194.39,146.78 195.13,146.95 195.88,147.12 196.62,147.29 197.36,147.45 198.10,147.62 198.84,147.78 199.58,147.95 200.32,148.11 201.06,148.28 201.80,148.44 202.54,148.60 203.29,148.76 204.03,148.92 204.77,149.08 205.51,149.24 206.25,149.39 206.99,149.55 207.73,149.71 208.47,149.86 209.21,150.01 209.95,150.17 210.70,150.32 211.44,150.47 212.18,150.62 212.92,150.78 213.66,150.93 214.40,151.07 215.14,151.22 215.88,151.37 216.62,151.52 217.37,151.66 218.11,151.81 218.85,151.95 219.59,152.10 220.33,152.24 221.07,152.38 221.81,152.53 222.55,152.67 223.29,152.81 224.03,152.95 224.78,153.09 225.52,153.23 226.26,153.36 227.00,153.50 227.74,153.64 228.48,153.77 229.22,153.91 229.96,154.04 230.70,154.18 231.44,154.31 232.19,154.44 232.93,154.58 233.67,154.71 234.41,154.84 235.15,154.97 235.89,155.10 236.63,155.23 237.37,155.35 238.11,155.48 238.85,155.61 239.59,155.73 240.34,155.86 241.08,155.99 241.82,156.11 242.56,156.23 243.30,156.36 244.04,156.48 244.78,156.60 245.52,156.72 246.26,156.84 247.00,156.96 247.75,157.08 248.49,157.20 249.23,157.32 249.97,157.44 250.71,157.56 251.45,157.67 252.19,157.79 252.93,157.91 253.67,158.02 254.41,158.14 255.16,158.25 255.90,158.36 256.64,158.48 257.38,158.59 258.12,158.70" fill="none" stroke="#111" stroke-width="0.85" stroke-linejoin="round" stroke-linecap="round" />
<polyline points="95.10,162.60 95.72,161.67 96.33,160.86 96.95,160.13 97.57,159.47 98.19,158.86 98.80,158.31 99.42,157.79 100.04,157.30 100.66,156.83 101.27,156.39 101.89,155.97 102.51,155.57 103.13,155.18 103.74,154.80 104.36,154.44 104.98,154.08 105.60,153.74 106.21,153.40 106.83,153.08 107.45,152.76 108.07,152.45 108.68,152.15 109.30,151.85 109.92,151.57 110.54,151.28 111.16,151.01 111.77,150.74 112.39,150.48 113.01,150.22 113.62,149.97 114.24,149.73 114.86,149.49 115.48,149.26 116.09,149.03 116.71,148.80 117.33,148.59 117.95,148.37 118.56,148.17 119.18,147.96 119.80,147.76 120.42,147.57 121.03,147.38 121.65,147.19 122.27,147.01 122.89,146.83 123.50,146.66 124.12,146.49 124.74,146.32 125.36,146.16 125.97,146.00 126.59,145.85 127.21,145.69 127.83,145.55 128.44,145.40 129.06,145.26 129.68,145.12 130.30,144.99 130.91,144.85 131.53,144.72 132.15,144.60 132.77,144.47 133.38,144.35 134.00,144.24 134.62,144.12 135.24,144.01 135.85,143.90 136.47,143.79 137.09,143.68 137.71,143.58 138.32,143.48 138.94,143.38 139.56,143.29 140.18,143.19 140.79,143.10 141.41,143.01 142.03,142.92 142.65,142.84 143.26,142.75 143.88,142.67 144.50,142.59 145.12,142.51 145.73,142.43 146.35,142.36 146.97,142.29 147.59,142.22 148.20,142.15 148.82,142.08 149.44,142.01 150.06,141.94 150.68,141.88 151.29,141.82 151.91,141.76 152.53,141.70 153.14,141.64 153.76,141.58 154.38,141.53 155.00,141.47 155.62,141.42 156.23,141.37 156.85,141.32 157.47,141.27 158.08,141.22 158.70,141.17 159.32,141.12 159.94,141.08 160.56,141.03 161.17,140.99 161.79,140.95 162.41,140.91 163.02,140.86 163.64,140.83 164.26,140.79 164.88,140.75 165.50,140.71 166.11,140.68 166.73,140.64 167.35,140.61 167.96,140.57 168.58,140.54 169.20,140.51" fill="none" stroke="#111" stroke-width="0.85" stroke-linejoin="round" stroke-linecap="round" />
<polyline points="169.20,158.30 169.94,158.41 170.68,158.53 171.42,158.64 172.16,158.75 172.90,158.86 173.65,158.97 174.39,159.08 175.13,159.19 175.87,159.30 176.61,159.41 177.35,159.51 178.09,159.62 178.83,159.73 179.57,159.84 180.31,159.94 181.06,160.05 181.80,160.15 182.54,160.25 183.28,160.36 184.02,160.46 184.76,160.56 185.50,160.67 186.24,160.77 186.98,160.87 187.72,160.97 188.47,161.07 189.21,161.17 189.95,161.27 190.69,161.37 191.43,161.47 192.17,161.56 192.91,161.66 193.65,161.76 194.39,161.85 195.13,161.95 195.88,162.04 196.62,162.14 197.36,162.23 198.10,162.33 198.84,162.42 199.58,162.51 200.32,162.61 201.06,162.70 201.80,162.79 202.54,162.88 203.29,162.97 204.03,163.06 204.77,163.15 205.51,163.24 206.25,163.33 206.99,163.42 207.73,163.51 208.47,163.60 209.21,163.68 209.95,163.77 210.70,163.86 211.44,163.94 212.18,164.03 212.92,164.11 213.66,164.20 214.40,164.28 215.14,164.37 215.88,164.45 216.62,164.53 217.37,164.62 218.11,164.70 218.85,164.78 219.59,164.86 220.33,164.94 221.07,165.02 221.81,165.11 222.55,165.19 223.29,165.26 224.03,165.34 224.78,165.42 225.52,165.50 226.26,165.58 227.00,165.66 227.74,165.73 228.48,165.81 229.22,165.89 229.96,165.96 230.70,166.04 231.44,166.12 232.19,166.19 232.93,166.26 233.67,166.34 234.41,166.41 235.15,166.49 235.89,166.56 236.63,166.63 237.37,166.71 238.11,166.78 238.85,166.85 239.59,166.92 240.34,166.99 241.08,167.06 241.82,167.13 242.56,167.20 243.30,167.27 244.04,167.34 244.78,167.41 245.52,167.48 246.26,167.55 247.00,167.62 247.75,167.68 248.49,167.75 249.23,167.82 249.97,167.89 250.71,167.95 251.45,168.02 252.19,168.08 252.93,168.15 253.67,168.21 254.41,168.28 255.16,168.34 255.90,168.41 256.64,168.47 257.38,168.54 258.12,168.60" fill="none" stroke="#111" stroke-width="0.85" stroke-linejoin="round" stroke-linecap="round" />
<polyline points="95.10,168.80 95.72,168.19 96.33,167.65 96.95,167.18 97.57,166.77 98.19,166.39 98.80,166.04 99.42,165.72 100.04,165.42 100.66,165.15 101.27,164.88 101.89,164.63 102.51,164.39 103.13,164.16 103.74,163.94 104.36,163.72 104.98,163.52 105.60,163.32 106.21,163.12 106.83,162.93 107.45,162.74 108.07,162.56 108.68,162.39 109.30,162.22 109.92,162.05 110.54,161.88 111.16,161.73 111.77,161.57 112.39,161.42 113.01,161.27 113.62,161.12 114.24,160.98 114.86,160.84 115.48,160.70 116.09,160.57 116.71,160.44 117.33,160.32 117.95,160.19 118.56,160.07 119.18,159.95 119.80,159.84 120.42,159.72 121.03,159.61 121.65,159.50 122.27,159.40 122.89,159.30 123.50,159.19 124.12,159.10 124.74,159.00 125.36,158.90 125.97,158.81 126.59,158.72 127.21,158.63 127.83,158.55 128.44,158.46 129.06,158.38 129.68,158.30 130.30,158.22 130.91,158.15 131.53,158.07 132.15,158.00 132.77,157.92 133.38,157.85 134.00,157.79 134.62,157.72 135.24,157.65 135.85,157.59 136.47,157.53 137.09,157.47 137.71,157.41 138.32,157.35 138.94,157.29 139.56,157.23 140.18,157.18 140.79,157.13 141.41,157.07 142.03,157.02 142.65,156.97 143.26,156.92 143.88,156.88 144.50,156.83 145.12,156.78 145.73,156.74 146.35,156.70 146.97,156.65 147.59,156.61 148.20,156.57 148.82,156.53 149.44,156.49 150.06,156.45 150.68,156.42 151.29,156.38 151.91,156.34 152.53,156.31 153.14,156.28 153.76,156.24 154.38,156.21 155.00,156.18 155.62,156.15 156.23,156.12 156.85,156.09 157.47,156.06 158.08,156.03 158.70,156.00 159.32,155.98 159.94,155.95 160.56,155.92 161.17,155.90 161.79,155.87 162.41,155.85 163.02,155.83 163.64,155.80 164.26,155.78 164.88,155.76 165.50,155.74 166.11,155.72 166.73,155.70 167.35,155.68 167.96,155.66 168.58,155.64 169.20,155.62" fill="none" stroke="#111" stroke-width="0.85" stroke-linejoin="round" stroke-linecap="round" />
<polyline points="169.20,166.90 169.94,166.99 170.68,167.08 171.42,167.17 172.16,167.26 172.90,167.35 173.65,167.43 174.39,167.52 175.13,167.61 175.87,167.69 176.61,167.78 177.35,167.86 178.09,167.95 178.83,168.03 179.57,168.11 180.31,168.20 181.06,168.28 181.80,168.36 182.54,168.44 183.28,168.52 184.02,168.60 184.76,168.68 185.50,168.76 186.24,168.84 186.98,168.92 187.72,168.99 188.47,169.07 189.21,169.15 189.95,169.23 190.69,169.30 191.43,169.38 192.17,169.45 192.91,169.53 193.65,169.60 194.39,169.67 195.13,169.75 195.88,169.82 196.62,169.89 197.36,169.96 198.10,170.03 198.84,170.10 199.58,170.17 200.32,170.24 201.06,170.31 201.80,170.38 202.54,170.45 203.29,170.52 204.03,170.59 204.77,170.66 205.51,170.72 206.25,170.79 206.99,170.86 207.73,170.92 208.47,170.99 209.21,171.05 209.95,171.12 210.70,171.18 211.44,171.24 212.18,171.31 212.92,171.37 213.66,171.43 214.40,171.49 215.14,171.56 215.88,171.62 216.62,171.68 217.37,171.74 218.11,171.80 218.85,171.86 219.59,171.92 220.33,171.98 221.07,172.04 221.81,172.10 222.55,172.15 223.29,172.21 224.03,172.27 224.78,172.33 225.52,172.38 226.26,172.44 227.00,172.49 227.74,172.55 228.48,172.61 229.22,172.66 229.96,172.72 230.70,172.77 231.44,172.82 232.19,172.88 232.93,172.93 233.67,172.98 234.41,173.04 235.15,173.09 235.89,173.14 236.63,173.19 237.37,173.24 238.11,173.29 238.85,173.34 239.59,173.39 240.34,173.44 241.08,173.49 241.82,173.54 242.56,173.59 243.30,173.64 244.04,173.69 244.78,173.74 245.52,173.79 246.26,173.83 247.00,173.88 247.75,173.93 248.49,173.98 249.23,174.02 249.97,174.07 250.71,174.11 251.45,174.16 252.19,174.21 252.93,174.25 253.67,174.29 254.41,174.34 255.16,174.38 255.90,174.43 256.64,174.47 257.38,174.51 258.12,174.56" fill="none" stroke="#111" stroke-width="0.85" stroke-linejoin="round" stroke-linecap="round" />
<polyline points="95.10,175.00 95.72,174.60 96.33,174.26 96.95,173.96 97.57,173.69 98.19,173.45 98.80,173.23 99.42,173.03 100.04,172.84 100.66,172.66 101.27,172.50 101.89,172.34 102.51,172.19 103.13,172.04 103.74,171.90 104.36,171.77 104.98,171.64 105.60,171.51 106.21,171.39 106.83,171.27 107.45,171.16 108.07,171.04 108.68,170.94 109.30,170.83 109.92,170.72 110.54,170.62 111.16,170.52 111.77,170.42 112.39,170.33 113.01,170.24 113.62,170.14 114.24,170.06 114.86,169.97 115.48,169.88 116.09,169.80 116.71,169.72 117.33,169.64 117.95,169.56 118.56,169.49 119.18,169.41 119.80,169.34 120.42,169.27 121.03,169.20 121.65,169.14 122.27,169.07 122.89,169.00 123.50,168.94 124.12,168.88 124.74,168.82 125.36,168.76 125.97,168.70 126.59,168.65 127.21,168.59 127.83,168.54 128.44,168.49 129.06,168.43 129.68,168.38 130.30,168.34 130.91,168.29 131.53,168.24 132.15,168.19 132.77,168.15 133.38,168.11 134.00,168.06 134.62,168.02 135.24,167.98 135.85,167.94 136.47,167.90 137.09,167.86 137.71,167.83 138.32,167.79 138.94,167.75 139.56,167.72 140.18,167.68 140.79,167.65 141.41,167.62 142.03,167.59 142.65,167.56 143.26,167.52 143.88,167.50 144.50,167.47 145.12,167.44 145.73,167.41 146.35,167.38 146.97,167.36 147.59,167.33 148.20,167.30 148.82,167.28 149.44,167.26 150.06,167.23 150.68,167.21 151.29,167.19 151.91,167.16 152.53,167.14 153.14,167.12 153.76,167.10 154.38,167.08 155.00,167.06 155.62,167.04 156.23,167.02 156.85,167.00 157.47,166.99 158.08,166.97 158.70,166.95 159.32,166.93 159.94,166.92 160.56,166.90 161.17,166.89 161.79,166.87 162.41,166.85 163.02,166.84 163.64,166.83 164.26,166.81 164.88,166.80 165.50,166.78 166.11,166.77 166.73,166.76 167.35,166.75 167.96,166.73 168.58,166.72 169.20,166.71" fill="none" stroke="#111" stroke-width="0.85" stroke-linejoin="round" stroke-linecap="round" />
<polyline points="169.20,173.40 169.94,173.44 170.68,173.47 171.42,173.51 172.16,173.55 172.90,173.58 173.65,173.62 174.39,173.65 175.13,173.69 175.87,173.72 176.61,173.76 177.35,173.80 178.09,173.83 178.83,173.86 179.57,173.90 180.31,173.93 181.06,173.97 181.80,174.00 182.54,174.04 183.28,174.07 184.02,174.10 184.76,174.14 185.50,174.17 186.24,174.20 186.98,174.24 187.72,174.27 188.47,174.30 189.21,174.34 189.95,174.37 190.69,174.40 191.43,174.43 192.17,174.46 192.91,174.50 193.65,174.53 194.39,174.56 195.13,174.59 195.88,174.62 196.62,174.65 197.36,174.68 198.10,174.72 198.84,174.75 199.58,174.78 200.32,174.81 201.06,174.84 201.80,174.87 202.54,174.90 203.29,174.93 204.03,174.96 204.77,174.99 205.51,175.02 206.25,175.05 206.99,175.08 207.73,175.10 208.47,175.13 209.21,175.16 209.95,175.19 210.70,175.22 211.44,175.25 212.18,175.28 212.92,175.31 213.66,175.33 214.40,175.36 215.14,175.39 215.88,175.42 216.62,175.44 217.37,175.47 218.11,175.50 218.85,175.53 219.59,175.55 220.33,175.58 221.07,175.61 221.81,175.63 222.55,175.66 223.29,175.69 224.03,175.71 224.78,175.74 225.52,175.77 226.26,175.79 227.00,175.82 227.74,175.84 228.48,175.87 229.22,175.89 229.96,175.92 230.70,175.95 231.44,175.97 232.19,176.00 232.93,176.02 233.67,176.05 234.41,176.07 235.15,176.09 235.89,176.12 236.63,176.14 237.37,176.17 238.11,176.19 238.85,176.22 239.59,176.24 240.34,176.26 241.08,176.29 241.82,176.31 242.56,176.33 243.30,176.36 244.04,176.38 244.78,176.40 245.52,176.43 246.26,176.45 247.00,176.47 247.75,176.50 248.49,176.52 249.23,176.54 249.97,176.56 250.71,176.59 251.45,176.61 252.19,176.63 252.93,176.65 253.67,176.68 254.41,176.70 255.16,176.72 255.90,176.74 256.64,176.76 257.38,176.78 258.12,176.81" fill="none" stroke="#111" stroke-width="0.85" stroke-linejoin="round" stroke-linecap="round" />
<polyline points="65.46,181.50 95.10,181.50" fill="none" stroke="#222" stroke-width="0.9" stroke-linejoin="round" stroke-linecap="round" />
<line x1="95.10" y1="181.50" x2="95.10" y2="123.50" stroke="#111" stroke-width="0.9" />
<line x1="169.20" y1="40.50" x2="169.20" y2="173.50" stroke="#555" stroke-width="0.9" />
<text x="277.90" y="8.80" font-size="10" font-weight="bold" text-anchor="start" fill="#000" >B</text>
<text x="288.20" y="22.90" font-size="12.4" font-weight="bold" text-anchor="start" fill="#000" >Flag-Imd</text>
<text x="288.20" y="37.00" font-size="12.4" font-weight="bold" text-anchor="start" fill="#000" >TFs</text>
<text x="288.20" y="52.00" font-size="12.4" font-weight="bold" text-anchor="start" fill="#000" >SDD-AGE:</text>
<text x="288.20" y="70.00" font-size="12.4" font-weight="bold" text-anchor="start" fill="#000" >WB:Flag</text>
<text x="362.70" y="22.70" font-size="12.4" font-weight="bold" text-anchor="middle" fill="#000"  stroke="#000" stroke-width="0.45">+</text>
<text x="389.50" y="22.70" font-size="12.4" font-weight="bold" text-anchor="middle" fill="#000"  stroke="#000" stroke-width="0.45">+</text>
<text x="413.90" y="22.70" font-size="12.4" font-weight="bold" text-anchor="middle" fill="#000"  stroke="#000" stroke-width="0.45">+</text>
<text x="438.20" y="22.70" font-size="12.4" font-weight="bold" text-anchor="middle" fill="#000"  stroke="#000" stroke-width="0.45">+</text>
<text x="362.60" y="38.20" font-size="12.4" font-weight="bold" text-anchor="middle" fill="#000"  stroke="#000" stroke-width="0.35">-</text>
<polygon points="382.3,40.6 445.7,25.6 445.7,40.6" fill="#000"/>
<defs><filter id="b1" x="-50%" y="-50%" width="200%" height="200%"><feGaussianBlur stdDeviation="1"/></filter><filter id="b2" x="-50%" y="-50%" width="200%" height="200%"><feGaussianBlur stdDeviation="2"/></filter><filter id="b3" x="-50%" y="-50%" width="200%" height="200%"><feGaussianBlur stdDeviation="3"/></filter><filter id="b5" x="-50%" y="-50%" width="200%" height="200%"><feGaussianBlur stdDeviation="5"/></filter><clipPath id="cB"><rect x="346.1" y="57.9" width="106.7" height="138.9"/></clipPath><clipPath id="cBs"><rect x="346.1" y="213.8" width="106.7" height="27.4"/></clipPath><clipPath id="cE1"><rect x="349.6" y="347.7" width="79.6" height="123.3"/></clipPath><clipPath id="cE2"><rect x="434" y="348" width="79.5" height="122.8"/></clipPath><clipPath id="cE3"><rect x="349.6" y="483.6" width="79.6" height="16.7"/></clipPath><clipPath id="cE4"><rect x="349.6" y="504.6" width="79.6" height="17.8"/></clipPath><clipPath id="cH"><rect x="372.6" y="638" width="130.8" height="145.8"/></clipPath><clipPath id="cHs"><rect x="372.6" y="800.4" width="130.8" height="26.6"/></clipPath></defs>
<rect x="346.10" y="57.90" width="106.70" height="138.90" fill="#bebebe" stroke="none" stroke-width="1" />
<g clip-path="url(#cB)">
<rect x="446" y="57" width="8" height="140" fill="#b5b5b5" filter="url(#b2)"/>
<linearGradient id="lg1" gradientUnits="userSpaceOnUse" x1="0" y1="72" x2="0" y2="120"><stop offset="0.000" stop-color="#bebebe"/><stop offset="0.208" stop-color="#9a9a9a"/><stop offset="0.583" stop-color="#8a8a8a"/><stop offset="1.000" stop-color="#777"/></linearGradient>
<rect x="355" y="72" width="17" height="48" rx="3" fill="url(#lg1)" filter="url(#b2)"/>
<linearGradient id="gV" gradientUnits="userSpaceOnUse" x1="0" y1="92" x2="0" y2="150"><stop offset="0" stop-color="#777"/><stop offset="0.45" stop-color="#333"/><stop offset="1" stop-color="#000"/></linearGradient>
<path d="M354.5,92 L359.5,92 L362.5,157 L367,110 L373,110 L373.5,189 Q364,193 355,189 Z" fill="url(#gV)" filter="url(#b2)"/>
<path d="M359.5,95 L367.5,105 L362.7,150 Z" fill="#8a8a8a" filter="url(#b1)"/>
<ellipse cx="362.5" cy="158" rx="2" ry="2.5" fill="#333" filter="url(#b1)"/>
<ellipse cx="367.5" cy="63" rx="5.5" ry="2.7" fill="#000" filter="url(#b1)"/>
<ellipse cx="371" cy="73" rx="1" ry="1" fill="#222"/><ellipse cx="358" cy="67" rx="0.9" ry="0.9" fill="#222"/>
<rect x="378" y="60" width="4" height="70" fill="#aaa" filter="url(#b2)"/>
<rect x="386" y="108" width="7" height="70" fill="#adadad" filter="url(#b3)"/>
<rect x="403" y="60" width="4" height="28" fill="#aaa" filter="url(#b2)"/>
<ellipse cx="405.7" cy="62.6" rx="2.2" ry="1.5" fill="#111" filter="url(#b1)"/>
<ellipse cx="417" cy="63" rx="1.2" ry="1.3" fill="#333" filter="url(#b1)"/>
<rect x="403" y="152" width="6" height="35" fill="#a8a8a8" filter="url(#b2)"/>
<path d="M394,148.3 Q405,150 411,151 Q418,151 421.5,145" fill="none" stroke="#111" stroke-width="2.2" filter="url(#b1)"/>
<path d="M404,150 Q412,152.5 419,148" fill="none" stroke="#000" stroke-width="2" />
<rect x="428" y="143" width="5" height="38" fill="#a5a5a5" filter="url(#b2)"/>
<rect x="440" y="143" width="4.5" height="38" fill="#a5a5a5" filter="url(#b2)"/>
<ellipse cx="422" cy="193" rx="1" ry="1" fill="#333"/>
</g>
<rect x="346.10" y="57.90" width="106.70" height="138.90" fill="none" stroke="#000" stroke-width="1.5" />
<rect x="346.10" y="213.80" width="106.70" height="27.40" fill="#efefef" stroke="none" stroke-width="1" />
<g clip-path="url(#cBs)">
<rect x="350" y="219" width="99" height="17" fill="#d0d0d0" filter="url(#b3)"/>
<rect x="354.3" y="222.2" width="15.7" height="11.2" rx="6" ry="5.5" fill="#000" filter="url(#b1)"/>
<rect x="378.2" y="222.8" width="15.8" height="10.2" rx="6" ry="5.5" fill="#000" filter="url(#b1)"/>
<rect x="402.6" y="222.2" width="17.4" height="11.0" rx="6" ry="5.5" fill="#000" filter="url(#b1)"/>
<rect x="426" y="220.8" width="19.5" height="12.8" rx="6" ry="5.5" fill="#000" filter="url(#b1)"/>
</g>
<rect x="346.10" y="213.80" width="106.70" height="27.40" fill="none" stroke="#000" stroke-width="1.5" />
<text x="287.60" y="210.70" font-size="12.4" font-weight="bold" text-anchor="start" fill="#000" >SDS-PAGE:</text>
<text x="287.60" y="228.00" font-size="12.4" font-weight="bold" text-anchor="start" fill="#000" >WB:Flag</text>
<line x1="453.60" y1="226.50" x2="458.20" y2="226.50" stroke="#000" stroke-width="1.5" />
<text x="460.00" y="230.80" font-size="12.4" font-weight="bold" text-anchor="start" fill="#000" >40kDa</text>
<text x="509.60" y="9.00" font-size="10" font-weight="bold" text-anchor="start" fill="#000" >C</text>
<line x1="560.20" y1="37.30" x2="560.20" y2="208.20" stroke="#000" stroke-width="1.5" />
<line x1="559.50" y1="207.50" x2="729.50" y2="207.50" stroke="#000" stroke-width="1.5" />
<line x1="556.50" y1="207.50" x2="560.20" y2="207.50" stroke="#000" stroke-width="1.5" />
<text x="550.20" y="211.80" font-size="12.4" font-weight="bold" text-anchor="end" fill="#000" >0</text>
<line x1="556.50" y1="164.95" x2="560.20" y2="164.95" stroke="#000" stroke-width="1.5" />
<text x="550.20" y="169.25" font-size="12.4" font-weight="bold" text-anchor="end" fill="#000" >0.3</text>
<line x1="556.50" y1="122.40" x2="560.20" y2="122.40" stroke="#000" stroke-width="1.5" />
<text x="550.20" y="126.70" font-size="12.4" font-weight="bold" text-anchor="end" fill="#000" >0.6</text>
<line x1="556.50" y1="79.85" x2="560.20" y2="79.85" stroke="#000" stroke-width="1.5" />
<text x="550.20" y="84.15" font-size="12.4" font-weight="bold" text-anchor="end" fill="#000" >0.9</text>
<line x1="556.50" y1="37.30" x2="560.20" y2="37.30" stroke="#000" stroke-width="1.5" />
<text x="550.20" y="41.60" font-size="12.4" font-weight="bold" text-anchor="end" fill="#000" >1.2</text>
<line x1="602.30" y1="207.50" x2="602.30" y2="212.00" stroke="#000" stroke-width="1.5" />
<line x1="644.70" y1="207.50" x2="644.70" y2="212.00" stroke="#000" stroke-width="1.5" />
<line x1="686.50" y1="207.50" x2="686.50" y2="212.00" stroke="#000" stroke-width="1.5" />
<line x1="728.80" y1="207.50" x2="728.80" y2="212.00" stroke="#000" stroke-width="1.5" />
<text transform="translate(524.40,120.20) rotate(-90)" font-size="12.4" font-weight="bold" text-anchor="middle" >Relative aggregate level</text>
<rect x="575.10" y="66.67" width="13.00" height="140.83" fill="#6680c4" stroke="#000" stroke-width="2" />
<line x1="623.50" y1="180.98" x2="623.50" y2="178.57" stroke="#000" stroke-width="1.5" />
<line x1="620.50" y1="178.57" x2="626.50" y2="178.57" stroke="#000" stroke-width="1.5" />
<rect x="617.00" y="181.98" width="13.00" height="25.52" fill="#6680c4" stroke="#000" stroke-width="2" />
<line x1="666.00" y1="181.69" x2="666.00" y2="177.15" stroke="#000" stroke-width="1.5" />
<line x1="663.00" y1="177.15" x2="669.00" y2="177.15" stroke="#000" stroke-width="1.5" />
<rect x="659.50" y="182.69" width="13.00" height="24.81" fill="#6680c4" stroke="#000" stroke-width="2" />
<line x1="708.00" y1="192.75" x2="708.00" y2="188.78" stroke="#000" stroke-width="1.5" />
<line x1="705.00" y1="188.78" x2="711.00" y2="188.78" stroke="#000" stroke-width="1.5" />
<rect x="701.50" y="193.75" width="13.00" height="13.75" fill="#6680c4" stroke="#000" stroke-width="2" />
<line x1="582.50" y1="57.60" x2="621.20" y2="57.60" stroke="#000" stroke-width="1.7" />
<text x="599.70" y="58.40" font-size="12.4" font-weight="bold" text-anchor="middle" fill="#000" >***</text>
<line x1="582.50" y1="43.00" x2="668.50" y2="43.00" stroke="#000" stroke-width="1.7" />
<text x="617.00" y="43.80" font-size="12.4" font-weight="bold" text-anchor="middle" fill="#000" >***</text>
<line x1="582.50" y1="27.40" x2="707.40" y2="27.40" stroke="#000" stroke-width="1.7" />
<text x="642.00" y="28.20" font-size="12.4" font-weight="bold" text-anchor="middle" fill="#000" >***</text>
<text x="509.60" y="225.60" font-size="12.4" font-weight="bold" text-anchor="start" fill="#000" >Flag-Imd</text>
<text x="509.60" y="240.00" font-size="12.4" font-weight="bold" text-anchor="start" fill="#000" >TFs</text>
<text x="582.00" y="225.50" font-size="12.4" font-weight="bold" text-anchor="middle" fill="#000"  stroke="#000" stroke-width="0.45">+</text>
<text x="623.50" y="225.50" font-size="12.4" font-weight="bold" text-anchor="middle" fill="#000"  stroke="#000" stroke-width="0.45">+</text>
<text x="666.00" y="225.50" font-size="12.4" font-weight="bold" text-anchor="middle" fill="#000"  stroke="#000" stroke-width="0.45">+</text>
<text x="708.00" y="225.50" font-size="12.4" font-weight="bold" text-anchor="middle" fill="#000"  stroke="#000" stroke-width="0.45">+</text>
<text x="582.00" y="238.50" font-size="12.4" font-weight="bold" text-anchor="middle" fill="#000"  stroke="#000" stroke-width="0.35">-</text>
<polygon points="618.3,237.4 716,225.1 716,237.4" fill="#000"/>
<text x="0.50" y="289.00" font-size="10" font-weight="bold" text-anchor="start" fill="#000" >D</text>
<line x1="65.80" y1="323.20" x2="65.80" y2="483.20" stroke="#000" stroke-width="1.8" />
<line x1="65.00" y1="482.30" x2="231.70" y2="482.30" stroke="#000" stroke-width="1.8" />
<line x1="62.00" y1="482.30" x2="65.80" y2="482.30" stroke="#000" stroke-width="1.8" />
<text x="55.30" y="487.30" font-size="12.4" font-weight="bold" text-anchor="end" fill="#000" >0</text>
<line x1="62.00" y1="450.48" x2="65.80" y2="450.48" stroke="#000" stroke-width="1.8" />
<text x="55.30" y="455.48" font-size="12.4" font-weight="bold" text-anchor="end" fill="#000" >10000</text>
<line x1="62.00" y1="418.66" x2="65.80" y2="418.66" stroke="#000" stroke-width="1.8" />
<text x="55.30" y="423.66" font-size="12.4" font-weight="bold" text-anchor="end" fill="#000" >20000</text>
<line x1="62.00" y1="386.84" x2="65.80" y2="386.84" stroke="#000" stroke-width="1.8" />
<text x="55.30" y="391.84" font-size="12.4" font-weight="bold" text-anchor="end" fill="#000" >30000</text>
<line x1="62.00" y1="355.02" x2="65.80" y2="355.02" stroke="#000" stroke-width="1.8" />
<text x="55.30" y="360.02" font-size="12.4" font-weight="bold" text-anchor="end" fill="#000" >40000</text>
<line x1="62.00" y1="323.20" x2="65.80" y2="323.20" stroke="#000" stroke-width="1.8" />
<text x="55.30" y="328.20" font-size="12.4" font-weight="bold" text-anchor="end" fill="#000" >50000</text>
<line x1="65.80" y1="482.30" x2="65.80" y2="486.30" stroke="#000" stroke-width="1.8" />
<text x="65.80" y="501.10" font-size="12.4" font-weight="bold" text-anchor="middle" fill="#000" >455</text>
<line x1="102.65" y1="482.30" x2="102.65" y2="486.30" stroke="#000" stroke-width="1.8" />
<text x="102.65" y="501.10" font-size="12.4" font-weight="bold" text-anchor="middle" fill="#000" >475</text>
<line x1="139.50" y1="482.30" x2="139.50" y2="486.30" stroke="#000" stroke-width="1.8" />
<text x="139.50" y="501.10" font-size="12.4" font-weight="bold" text-anchor="middle" fill="#000" >495</text>
<line x1="176.35" y1="482.30" x2="176.35" y2="486.30" stroke="#000" stroke-width="1.8" />
<text x="176.35" y="501.10" font-size="12.4" font-weight="bold" text-anchor="middle" fill="#000" >515</text>
<line x1="213.20" y1="482.30" x2="213.20" y2="486.30" stroke="#000" stroke-width="1.8" />
<text x="213.20" y="501.10" font-size="12.4" font-weight="bold" text-anchor="middle" fill="#000" >535</text>
<text x="145.30" y="518.20" font-size="12.4" font-weight="bold" text-anchor="middle" fill="#000" >Wavelength (nm)</text>
<text transform="translate(13.75,404.40) rotate(-90)" font-size="12.4" font-weight="bold" text-anchor="middle" >ThT fluorescence intensity</text>
<line x1="98.70" y1="305.00" x2="129.00" y2="305.00" stroke="#7094d4" stroke-width="1.5" />
<text x="132" y="309.20" font-size="12.4" font-weight="bold">Imd+<tspan dx="-2" dy="-1.5">Buffer</tspan></text>
<line x1="98.70" y1="321.50" x2="129.00" y2="321.50" stroke="#d0141c" stroke-width="1.5" />
<text x="132.00" y="325.70" font-size="12.4" font-weight="bold" text-anchor="start" fill="#000" >Imd+50mMTFs</text>
<line x1="98.70" y1="337.90" x2="129.00" y2="337.90" stroke="#6ab45a" stroke-width="1.5" />
<text x="132.00" y="342.10" font-size="12.4" font-weight="bold" text-anchor="start" fill="#000" >Imd+100mMTFs</text>
<line x1="98.70" y1="354.30" x2="129.00" y2="354.30" stroke="#701878" stroke-width="1.5" />
<text x="132.00" y="358.50" font-size="12.4" font-weight="bold" text-anchor="start" fill="#000" >Imd+200mMTFs</text>
<polyline points="65.80,471.81 84.22,466.71 102.65,461.31 121.07,457.25 139.50,455.56 157.93,456.57 176.35,458.94 194.77,461.65 213.20,465.04 231.62,468.08" fill="none" stroke="#701878" stroke-width="1.8" stroke-linejoin="round" stroke-linecap="round" />
<polyline points="65.80,461.99 84.22,450.48 102.65,438.63 121.07,430.17 130.29,427.89 139.50,426.45 148.71,426.45 157.93,427.57 176.35,431.18 194.77,436.60 213.20,443.37 231.62,448.79" fill="none" stroke="#6ab45a" stroke-width="1.8" stroke-linejoin="round" stroke-linecap="round" />
<polyline points="65.80,456.24 84.22,442.52 102.65,428.48 121.07,418.32 130.29,416.43 139.50,415.61 148.71,415.95 157.93,418.02 176.35,422.38 194.77,429.15 203.99,434.23 213.20,437.62 222.41,440.93 231.62,443.71" fill="none" stroke="#d0141c" stroke-width="1.8" stroke-linejoin="round" stroke-linecap="round" />
<polyline points="65.80,429.83 75.01,416.11 84.22,402.75 93.44,388.53 102.65,378.38 111.86,370.93 121.07,367.21 130.29,366.54 139.50,367.56 148.71,369.58 157.93,374.32 167.14,379.05 176.35,384.14 185.56,389.21 194.77,396.32 203.99,404.44 213.20,410.54 222.41,416.29 231.62,420.69" fill="none" stroke="#7094d4" stroke-width="1.8" stroke-linejoin="round" stroke-linecap="round" />
<text x="248.20" y="288.80" font-size="10" font-weight="bold" text-anchor="start" fill="#000" >E</text>
<text x="257.70" y="318.20" font-size="12.4" font-weight="bold" text-anchor="start" fill="#000" >Gut lysate of</text>
<text x="257.7" y="333.7" font-size="12.4" font-weight="bold" font-style="italic">NP1<tspan font-size="8" dy="-4">ts</tspan><tspan dy="4">&gt;Myc-Imd</tspan></text>
<text x="257.70" y="349.00" font-size="12.4" font-weight="bold" text-anchor="start" fill="#000" >SDD-AGE:</text>
<text x="257.70" y="365.00" font-size="12.4" font-weight="bold" text-anchor="start" fill="#000" >WB:Myc</text>
<text x="372.50" y="301.30" font-size="12.4" font-weight="bold" text-anchor="middle" fill="#000" >Basal</text>
<text x="409.90" y="301.30" font-size="12.4" font-weight="bold" text-anchor="middle" fill="#000" >TFs</text>
<line x1="354.50" y1="305.80" x2="389.00" y2="305.80" stroke="#000" stroke-width="1.6" />
<line x1="393.10" y1="305.80" x2="427.70" y2="305.80" stroke="#000" stroke-width="1.6" />
<text x="361.50" y="324.60" font-size="12.4" font-weight="bold" text-anchor="middle" fill="#000"  stroke="#000" stroke-width="0.45">+</text>
<text x="380.30" y="324.60" font-size="12.4" font-weight="bold" text-anchor="middle" fill="#000"  stroke="#000" stroke-width="0.45">++</text>
<text x="400.90" y="324.60" font-size="12.4" font-weight="bold" text-anchor="middle" fill="#000"  stroke="#000" stroke-width="0.45">+</text>
<text x="417.40" y="324.60" font-size="12.4" font-weight="bold" text-anchor="middle" fill="#000"  stroke="#000" stroke-width="0.45">++</text>
<text transform="translate(458.50,334.50) rotate(-49)" font-size="12.4" font-weight="bold" text-anchor="start" >Long</text>
<text transform="translate(474.50,344.00) rotate(-53)" font-size="12.4" font-weight="bold" text-anchor="start" >exposure</text>
<rect x="349.60" y="347.70" width="79.60" height="123.30" fill="#ececec" stroke="none" stroke-width="1" />
<g clip-path="url(#cE1)">
<linearGradient id="lg2" gradientUnits="userSpaceOnUse" x1="0" y1="358" x2="0" y2="465"><stop offset="0.000" stop-color="#ececec"/><stop offset="0.187" stop-color="#d0d0d0"/><stop offset="0.318" stop-color="#888"/><stop offset="0.411" stop-color="#222"/><stop offset="0.579" stop-color="#111"/><stop offset="0.860" stop-color="#111"/><stop offset="0.888" stop-color="#777"/><stop offset="0.935" stop-color="#bbb"/><stop offset="1.000" stop-color="#e4e4e4"/></linearGradient>
<rect x="355" y="358" width="14.5" height="107" rx="3" fill="url(#lg2)" filter="url(#b2)"/>
<path d="M359.5,400 L364.5,400 L362,425 Z" fill="#555" filter="url(#b2)"/>
<linearGradient id="lg3" gradientUnits="userSpaceOnUse" x1="0" y1="355" x2="0" y2="466"><stop offset="0.000" stop-color="#ececec"/><stop offset="0.153" stop-color="#dadada"/><stop offset="0.279" stop-color="#a5a5a5"/><stop offset="0.351" stop-color="#222"/><stop offset="0.405" stop-color="#000"/><stop offset="0.865" stop-color="#000"/><stop offset="0.901" stop-color="#777"/><stop offset="0.946" stop-color="#bbb"/><stop offset="1.000" stop-color="#e0e0e0"/></linearGradient>
<rect x="374" y="355" width="16.5" height="111" rx="3" fill="url(#lg3)" filter="url(#b2)"/>
<linearGradient id="lg4" gradientUnits="userSpaceOnUse" x1="0" y1="350" x2="0" y2="395"><stop offset="0.000" stop-color="#e0e0e0"/><stop offset="0.333" stop-color="#bbb"/><stop offset="0.667" stop-color="#888"/><stop offset="1.000" stop-color="#333"/></linearGradient>
<rect x="385.5" y="350" width="2.5" height="45" rx="1" fill="url(#lg4)" filter="url(#b1)"/>
<path d="M380,396 L386,396 L383,424 Z" fill="#444" filter="url(#b2)"/>
<linearGradient id="lg5" gradientUnits="userSpaceOnUse" x1="0" y1="372" x2="0" y2="466"><stop offset="0.000" stop-color="#ececec"/><stop offset="0.170" stop-color="#ccc"/><stop offset="0.277" stop-color="#888"/><stop offset="0.511" stop-color="#777"/><stop offset="0.723" stop-color="#555"/><stop offset="0.830" stop-color="#444"/><stop offset="0.872" stop-color="#aaa"/><stop offset="1.000" stop-color="#e4e4e4"/></linearGradient>
<rect x="394.5" y="372" width="12.0" height="94" rx="3" fill="url(#lg5)" filter="url(#b2)"/>
<linearGradient id="lg6" gradientUnits="userSpaceOnUse" x1="0" y1="368" x2="0" y2="466"><stop offset="0.000" stop-color="#ececec"/><stop offset="0.153" stop-color="#c8c8c8"/><stop offset="0.286" stop-color="#666"/><stop offset="0.531" stop-color="#444"/><stop offset="0.735" stop-color="#333"/><stop offset="0.837" stop-color="#2a2a2a"/><stop offset="0.878" stop-color="#999"/><stop offset="1.000" stop-color="#e4e4e4"/></linearGradient>
<rect x="411.5" y="368" width="13.0" height="98" rx="3" fill="url(#lg6)" filter="url(#b2)"/>
</g>
<rect x="349.60" y="347.70" width="79.60" height="123.30" fill="none" stroke="#000" stroke-width="1.6" />
<rect x="434.00" y="348.00" width="79.50" height="122.80" fill="#e8e8e8" stroke="none" stroke-width="1" />
<g clip-path="url(#cE2)">
<linearGradient id="lg7" gradientUnits="userSpaceOnUse" x1="0" y1="352" x2="0" y2="468"><stop offset="0.000" stop-color="#e8e8e8"/><stop offset="0.138" stop-color="#d0d0d0"/><stop offset="0.284" stop-color="#999"/><stop offset="0.397" stop-color="#111"/><stop offset="0.500" stop-color="#000"/><stop offset="0.853" stop-color="#000"/><stop offset="0.888" stop-color="#888"/><stop offset="0.931" stop-color="#bbb"/><stop offset="1.000" stop-color="#e0e0e0"/></linearGradient>
<rect x="439" y="352" width="14.5" height="116" rx="3" fill="url(#lg7)" filter="url(#b2)"/>
<linearGradient id="lg8" gradientUnits="userSpaceOnUse" x1="0" y1="350" x2="0" y2="469"><stop offset="0.000" stop-color="#e0e0e0"/><stop offset="0.084" stop-color="#bbb"/><stop offset="0.235" stop-color="#777"/><stop offset="0.336" stop-color="#111"/><stop offset="0.420" stop-color="#000"/><stop offset="0.866" stop-color="#000"/><stop offset="0.899" stop-color="#777"/><stop offset="0.941" stop-color="#aaa"/><stop offset="1.000" stop-color="#dcdcdc"/></linearGradient>
<rect x="456" y="350" width="20" height="119" rx="3" fill="url(#lg8)" filter="url(#b2)"/>
<linearGradient id="lg9" gradientUnits="userSpaceOnUse" x1="0" y1="365" x2="0" y2="467"><stop offset="0.000" stop-color="#e8e8e8"/><stop offset="0.196" stop-color="#ccc"/><stop offset="0.343" stop-color="#666"/><stop offset="0.461" stop-color="#333"/><stop offset="0.833" stop-color="#222"/><stop offset="0.873" stop-color="#aaa"/><stop offset="1.000" stop-color="#e0e0e0"/></linearGradient>
<rect x="477" y="365" width="14" height="102" rx="3" fill="url(#lg9)" filter="url(#b2)"/>
<linearGradient id="lg10" gradientUnits="userSpaceOnUse" x1="0" y1="362" x2="0" y2="467"><stop offset="0.000" stop-color="#e8e8e8"/><stop offset="0.171" stop-color="#bbb"/><stop offset="0.324" stop-color="#555"/><stop offset="0.438" stop-color="#111"/><stop offset="0.848" stop-color="#000"/><stop offset="0.886" stop-color="#999"/><stop offset="1.000" stop-color="#dcdcdc"/></linearGradient>
<rect x="494.5" y="362" width="15.5" height="105" rx="3" fill="url(#lg10)" filter="url(#b2)"/>
</g>
<rect x="434.00" y="348.00" width="79.50" height="122.80" fill="none" stroke="#000" stroke-width="1.6" />
<rect x="349.60" y="483.60" width="79.60" height="16.70" fill="#ededed" stroke="none" stroke-width="1" />
<g clip-path="url(#cE3)">
<rect x="352.3" y="491.4" width="12.8" height="4.2" rx="3" ry="2.5" fill="#2a2a2a" filter="url(#b1)"/>
<rect x="372.5" y="490.3" width="13.7" height="6.0" rx="3" ry="2.5" fill="#000" filter="url(#b1)"/>
<rect x="393" y="491.4" width="12.4" height="4.2" rx="3" ry="2.5" fill="#3a3a3a" filter="url(#b1)"/>
<rect x="413.1" y="489.2" width="12.5" height="6.5" rx="3" ry="2.5" fill="#000" filter="url(#b1)"/>
</g>
<rect x="349.60" y="483.60" width="79.60" height="16.70" fill="none" stroke="#000" stroke-width="1.6" />
<rect x="349.60" y="504.60" width="79.60" height="17.80" fill="#ededed" stroke="none" stroke-width="1" />
<g clip-path="url(#cE4)">
<rect x="353.2" y="510.8" width="14.7" height="5.0" rx="3.5" ry="2.8" fill="#000" filter="url(#b1)"/>
<rect x="372" y="510.4" width="15.5" height="6.3" rx="3.5" ry="2.8" fill="#000" filter="url(#b1)"/>
<rect x="390.4" y="510.8" width="16.0" height="5.4" rx="3.5" ry="2.8" fill="#000" filter="url(#b1)"/>
<rect x="410" y="510.4" width="15.6" height="5.9" rx="3.5" ry="2.8" fill="#000" filter="url(#b1)"/>
</g>
<rect x="349.60" y="504.60" width="79.60" height="17.80" fill="none" stroke="#000" stroke-width="1.6" />
<text x="257.70" y="481.70" font-size="12.4" font-weight="bold" text-anchor="start" fill="#000" >SDS-PAGE:</text>
<text x="257.70" y="496.50" font-size="12.4" font-weight="bold" text-anchor="start" fill="#000" >WB:Myc</text>
<text x="257.70" y="516.80" font-size="12.4" font-weight="bold" text-anchor="start" fill="#000" >WB:Tubulin</text>
<line x1="430.20" y1="496.20" x2="435.20" y2="496.20" stroke="#000" stroke-width="1.7" />
<text x="438.30" y="501.00" font-size="12.4" font-weight="bold" text-anchor="start" fill="#000" >40kDa</text>
<line x1="430.20" y1="514.50" x2="435.20" y2="514.50" stroke="#000" stroke-width="1.7" />
<text x="438.30" y="519.30" font-size="12.4" font-weight="bold" text-anchor="start" fill="#000" >55kDa</text>
<text x="553.00" y="288.50" font-size="10" font-weight="bold" text-anchor="start" fill="#000" >F</text>
<line x1="618.00" y1="299.60" x2="618.00" y2="472.10" stroke="#000" stroke-width="1.5" />
<line x1="617.30" y1="471.40" x2="728.60" y2="471.40" stroke="#000" stroke-width="1.5" />
<line x1="614.00" y1="471.40" x2="618.00" y2="471.40" stroke="#000" stroke-width="1.5" />
<text x="608.10" y="475.70" font-size="12.4" font-weight="bold" text-anchor="end" fill="#000" >0</text>
<line x1="614.00" y1="428.45" x2="618.00" y2="428.45" stroke="#000" stroke-width="1.5" />
<text x="608.10" y="432.75" font-size="12.4" font-weight="bold" text-anchor="end" fill="#000" >0.3</text>
<line x1="614.00" y1="385.50" x2="618.00" y2="385.50" stroke="#000" stroke-width="1.5" />
<text x="608.10" y="389.80" font-size="12.4" font-weight="bold" text-anchor="end" fill="#000" >0.6</text>
<line x1="614.00" y1="342.55" x2="618.00" y2="342.55" stroke="#000" stroke-width="1.5" />
<text x="608.10" y="346.85" font-size="12.4" font-weight="bold" text-anchor="end" fill="#000" >0.9</text>
<line x1="614.00" y1="299.60" x2="618.00" y2="299.60" stroke="#000" stroke-width="1.5" />
<text x="608.10" y="303.90" font-size="12.4" font-weight="bold" text-anchor="end" fill="#000" >1.2</text>
<line x1="646.30" y1="471.40" x2="646.30" y2="475.50" stroke="#000" stroke-width="1.5" />
<line x1="673.60" y1="471.40" x2="673.60" y2="475.50" stroke="#000" stroke-width="1.5" />
<line x1="701.00" y1="471.40" x2="701.00" y2="475.50" stroke="#000" stroke-width="1.5" />
<line x1="728.00" y1="471.40" x2="728.00" y2="475.50" stroke="#000" stroke-width="1.5" />
<text transform="translate(581.20,385.20) rotate(-90)" font-size="12.4" font-weight="bold" text-anchor="middle" >Relative aggregate level</text>
<rect x="628.35" y="329.03" width="7.90" height="142.37" fill="#6680c4" stroke="#000" stroke-width="1.6" />
<line x1="659.80" y1="390.51" x2="659.80" y2="375.48" stroke="#000" stroke-width="1.5" />
<line x1="657.30" y1="375.48" x2="662.30" y2="375.48" stroke="#000" stroke-width="1.5" />
<rect x="655.85" y="391.31" width="7.90" height="80.09" fill="#6680c4" stroke="#000" stroke-width="1.6" />
<line x1="687.60" y1="351.14" x2="687.60" y2="342.55" stroke="#000" stroke-width="1.5" />
<line x1="685.10" y1="342.55" x2="690.10" y2="342.55" stroke="#000" stroke-width="1.5" />
<rect x="683.65" y="351.94" width="7.90" height="119.46" fill="#6680c4" stroke="#000" stroke-width="1.6" />
<line x1="715.10" y1="408.41" x2="715.10" y2="394.09" stroke="#000" stroke-width="1.5" />
<line x1="712.60" y1="394.09" x2="717.60" y2="394.09" stroke="#000" stroke-width="1.5" />
<rect x="711.15" y="409.21" width="7.90" height="62.19" fill="#6680c4" stroke="#000" stroke-width="1.6" />
<line x1="630.20" y1="321.10" x2="660.80" y2="321.10" stroke="#000" stroke-width="1.6" />
<text x="645.70" y="322.90" font-size="12.4" font-weight="bold" text-anchor="middle" fill="#000" >***</text>
<line x1="688.00" y1="336.60" x2="718.00" y2="336.60" stroke="#000" stroke-width="1.6" />
<text x="702.50" y="338.80" font-size="12.4" font-weight="bold" text-anchor="middle" fill="#000" >***</text>
<text x="615.80" y="488.40" font-size="12.4" font-weight="bold" text-anchor="end" fill="#000" >Gut lysate of</text>
<text x="615.8" y="505.1" font-size="12.4" font-weight="bold" font-style="italic" text-anchor="end">NP1<tspan font-size="8" dy="-4">ts</tspan><tspan dy="4">&gt;Myc-Imd</tspan></text>
<text x="615.80" y="519.60" font-size="12.4" font-weight="bold" text-anchor="end" fill="#000" >TFs</text>
<text x="631.20" y="496.50" font-size="12.4" font-weight="bold" text-anchor="middle" fill="#000"  stroke="#000" stroke-width="0.45">+</text>
<text x="658.50" y="496.50" font-size="12.4" font-weight="bold" text-anchor="middle" fill="#000"  stroke="#000" stroke-width="0.45">+</text>
<text x="686.50" y="496.50" font-size="12.4" font-weight="bold" text-anchor="middle" fill="#000"  stroke="#000" stroke-width="0.45">++</text>
<text x="713.80" y="496.50" font-size="12.4" font-weight="bold" text-anchor="middle" fill="#000"  stroke="#000" stroke-width="0.45">++</text>
<text x="631.20" y="519.20" font-size="12.4" font-weight="bold" text-anchor="middle" fill="#000"  stroke="#000" stroke-width="0.35">-</text>
<text x="658.50" y="520.00" font-size="12.4" font-weight="bold" text-anchor="middle" fill="#000"  stroke="#000" stroke-width="0.45">+</text>
<text x="686.50" y="519.20" font-size="12.4" font-weight="bold" text-anchor="middle" fill="#000"  stroke="#000" stroke-width="0.35">-</text>
<text x="713.80" y="520.00" font-size="12.4" font-weight="bold" text-anchor="middle" fill="#000"  stroke="#000" stroke-width="0.45">+</text>
<text x="0.50" y="569.50" font-size="10" font-weight="bold" text-anchor="start" fill="#000" >G</text>
<line x1="52.30" y1="587.70" x2="52.30" y2="767.30" stroke="#777" stroke-width="1.2" />
<line x1="52.30" y1="767.30" x2="285.30" y2="767.30" stroke="#555" stroke-width="1.2" />
<line x1="48.30" y1="758.30" x2="52.30" y2="758.30" stroke="#777" stroke-width="1.2" />
<text x="45.80" y="767.12" font-size="12.4" font-weight="bold" text-anchor="end" fill="#000" >0</text>
<line x1="48.30" y1="739.35" x2="52.30" y2="739.35" stroke="#777" stroke-width="1.2" />
<text x="45.80" y="747.69" font-size="12.4" font-weight="bold" text-anchor="end" fill="#000" >20</text>
<line x1="48.30" y1="720.40" x2="52.30" y2="720.40" stroke="#777" stroke-width="1.2" />
<text x="45.80" y="728.26" font-size="12.4" font-weight="bold" text-anchor="end" fill="#000" >40</text>
<line x1="48.30" y1="701.45" x2="52.30" y2="701.45" stroke="#777" stroke-width="1.2" />
<text x="45.80" y="708.83" font-size="12.4" font-weight="bold" text-anchor="end" fill="#000" >60</text>
<line x1="48.30" y1="682.50" x2="52.30" y2="682.50" stroke="#777" stroke-width="1.2" />
<text x="45.80" y="689.40" font-size="12.4" font-weight="bold" text-anchor="end" fill="#000" >80</text>
<line x1="48.30" y1="663.55" x2="52.30" y2="663.55" stroke="#777" stroke-width="1.2" />
<text x="45.80" y="669.97" font-size="12.4" font-weight="bold" text-anchor="end" fill="#000" >100</text>
<line x1="48.30" y1="644.60" x2="52.30" y2="644.60" stroke="#777" stroke-width="1.2" />
<text x="45.80" y="650.54" font-size="12.4" font-weight="bold" text-anchor="end" fill="#000" >120</text>
<line x1="48.30" y1="625.65" x2="52.30" y2="625.65" stroke="#777" stroke-width="1.2" />
<text x="45.80" y="631.11" font-size="12.4" font-weight="bold" text-anchor="end" fill="#000" >140</text>
<line x1="48.30" y1="606.70" x2="52.30" y2="606.70" stroke="#777" stroke-width="1.2" />
<text x="45.80" y="611.68" font-size="12.4" font-weight="bold" text-anchor="end" fill="#000" >160</text>
<line x1="48.30" y1="587.75" x2="52.30" y2="587.75" stroke="#777" stroke-width="1.2" />
<text x="45.80" y="592.25" font-size="12.4" font-weight="bold" text-anchor="end" fill="#000" >180</text>
<line x1="52.50" y1="767.30" x2="52.50" y2="771.30" stroke="#555" stroke-width="1.2" />
<text x="51.00" y="791.00" font-size="12.4" font-weight="bold" text-anchor="middle" fill="#000" >0</text>
<line x1="75.75" y1="767.30" x2="75.75" y2="771.30" stroke="#555" stroke-width="1.2" />
<text x="74.25" y="791.00" font-size="12.4" font-weight="bold" text-anchor="middle" fill="#000" >2</text>
<line x1="99.00" y1="767.30" x2="99.00" y2="771.30" stroke="#555" stroke-width="1.2" />
<text x="97.50" y="791.00" font-size="12.4" font-weight="bold" text-anchor="middle" fill="#000" >4</text>
<line x1="122.25" y1="767.30" x2="122.25" y2="771.30" stroke="#555" stroke-width="1.2" />
<text x="120.75" y="791.00" font-size="12.4" font-weight="bold" text-anchor="middle" fill="#000" >6</text>
<line x1="145.50" y1="767.30" x2="145.50" y2="771.30" stroke="#555" stroke-width="1.2" />
<text x="144.00" y="791.00" font-size="12.4" font-weight="bold" text-anchor="middle" fill="#000" >8</text>
<line x1="168.75" y1="767.30" x2="168.75" y2="771.30" stroke="#555" stroke-width="1.2" />
<text x="167.25" y="791.00" font-size="12.4" font-weight="bold" text-anchor="middle" fill="#000" >10</text>
<line x1="192.00" y1="767.30" x2="192.00" y2="771.30" stroke="#555" stroke-width="1.2" />
<text x="190.50" y="791.00" font-size="12.4" font-weight="bold" text-anchor="middle" fill="#000" >12</text>
<line x1="215.25" y1="767.30" x2="215.25" y2="771.30" stroke="#555" stroke-width="1.2" />
<text x="213.75" y="791.00" font-size="12.4" font-weight="bold" text-anchor="middle" fill="#000" >14</text>
<line x1="238.50" y1="767.30" x2="238.50" y2="771.30" stroke="#555" stroke-width="1.2" />
<text x="237.00" y="791.00" font-size="12.4" font-weight="bold" text-anchor="middle" fill="#000" >16</text>
<line x1="261.75" y1="767.30" x2="261.75" y2="771.30" stroke="#555" stroke-width="1.2" />
<text x="260.25" y="791.00" font-size="12.4" font-weight="bold" text-anchor="middle" fill="#000" >18</text>
<line x1="285.00" y1="767.30" x2="285.00" y2="771.30" stroke="#555" stroke-width="1.2" />
<text x="283.50" y="791.00" font-size="12.4" font-weight="bold" text-anchor="middle" fill="#000" >20</text>
<text x="167.50" y="809.60" font-size="12.4" font-weight="bold" text-anchor="middle" fill="#000" >Retention time (min)</text>
<text transform="translate(16.60,675.40) rotate(-90)" font-size="12.4" font-weight="bold" text-anchor="middle" >Absorbamce at 278nm (mAU)</text>
<text x="159.00" y="667.50" font-size="12.4" font-weight="bold" text-anchor="middle" fill="#000" >TF1</text>
<text x="173.10" y="644.30" font-size="12.4" font-weight="bold" text-anchor="middle" fill="#000" >TF2a</text>
<text x="201.20" y="588.90" font-size="12.4" font-weight="bold" text-anchor="middle" fill="#000" >TF2b</text>
<text x="222.90" y="633.50" font-size="12.4" font-weight="bold" text-anchor="middle" fill="#000" >TF3</text>
<polyline points="52.50,759.72 52.67,759.72 52.83,759.71 53.00,759.71 53.17,759.71 53.33,759.70 53.50,759.70 53.67,759.70 53.84,759.69 54.00,759.69 54.17,759.69 54.34,759.68 54.50,759.68 54.67,759.67 54.84,759.67 55.00,759.67 55.17,759.66 55.34,759.66 55.50,759.66 55.67,759.65 55.84,759.65 56.00,759.65 56.17,759.64 56.34,759.64 56.51,759.64 56.67,759.63 56.84,759.63 57.01,759.62 57.17,759.62 57.34,759.62 57.51,759.61 57.67,759.61 57.84,759.61 58.01,759.60 58.17,759.60 58.34,759.60 58.51,759.59 58.68,759.59 58.84,759.59 59.01,759.58 59.18,759.58 59.34,759.57 59.51,759.57 59.68,759.57 59.84,759.56 60.01,759.56 60.18,759.56 60.34,759.55 60.51,759.55 60.68,759.55 60.85,759.54 61.01,759.54 61.18,759.54 61.35,759.53 61.51,759.53 61.68,759.52 61.85,759.52 62.01,759.52 62.18,759.51 62.35,759.51 62.51,759.51 62.68,759.50 62.85,759.50 63.01,759.50 63.18,759.49 63.35,759.49 63.52,759.48 63.68,759.48 63.85,759.48 64.02,759.47 64.18,759.47 64.35,759.47 64.52,759.46 64.68,759.46 64.85,759.46 65.02,759.45 65.18,759.45 65.35,759.45 65.52,759.44 65.69,759.44 65.85,759.43 66.02,759.43 66.19,759.43 66.35,759.42 66.52,759.42 66.69,759.42 66.85,759.41 67.02,759.41 67.19,759.41 67.35,759.40 67.52,759.40 67.69,759.40 67.85,759.39 68.02,759.39 68.19,759.38 68.36,759.38 68.52,759.38 68.69,759.37 68.86,759.37 69.02,759.37 69.19,759.36 69.36,759.36 69.52,759.36 69.69,759.35 69.86,759.35 70.02,759.35 70.19,759.34 70.36,759.34 70.53,759.33 70.69,759.33 70.86,759.33 71.03,759.32 71.19,759.32 71.36,759.32 71.53,759.31 71.69,759.31 71.86,759.31 72.03,759.30 72.19,759.30 72.36,759.30 72.53,759.29 72.70,759.29 72.86,759.28 73.03,759.28 73.20,759.28 73.36,759.27 73.53,759.27 73.70,759.27 73.86,759.26 74.03,759.26 74.20,759.26 74.36,759.25 74.53,759.25 74.70,759.21 74.86,759.17 75.03,759.11 75.20,759.06 75.37,758.99 75.53,758.91 75.70,758.81 75.87,758.67 76.03,758.50 76.20,758.28 76.37,758.02 76.53,757.73 76.70,757.44 76.87,757.22 77.03,757.22 77.20,757.33 77.37,757.48 77.54,757.63 77.70,757.77 77.87,757.89 78.04,757.97 78.20,758.06 78.37,758.12 78.54,758.17 78.70,758.20 78.87,758.22 79.04,758.22 79.20,758.23 79.37,758.22 79.54,758.22 79.70,758.21 79.87,758.21 80.04,758.20 80.21,758.19 80.37,758.18 80.54,758.17 80.71,758.17 80.87,758.16 81.04,758.15 81.21,758.14 81.37,758.13 81.54,758.12 81.71,758.10 81.87,758.09 82.04,758.06 82.21,758.01 82.38,757.94 82.54,757.83 82.71,757.65 82.88,757.39 83.04,757.01 83.21,756.52 83.38,755.91 83.54,755.24 83.71,754.61 83.88,754.22 84.04,754.43 84.21,754.87 84.38,755.39 84.55,755.91 84.71,756.38 84.88,756.78 85.05,757.11 85.21,757.35 85.38,757.53 85.55,757.66 85.71,757.74 85.88,757.80 86.05,757.83 86.21,757.85 86.38,757.85 86.55,757.86 86.71,757.85 86.88,757.85 87.05,757.84 87.22,757.83 87.38,757.82 87.55,757.80 87.72,757.77 87.88,757.74 88.05,757.71 88.22,757.68 88.38,757.65 88.55,757.62 88.72,757.58 88.88,757.55 89.05,757.50 89.22,757.45 89.39,757.37 89.55,757.25 89.72,757.08 89.89,756.80 90.05,756.38 90.22,755.73 90.39,754.79 90.55,753.44 90.72,751.62 90.89,749.26 91.05,746.40 91.22,743.17 91.39,739.92 91.56,737.22 91.72,736.30 91.89,737.14 92.06,738.50 92.22,740.13 92.39,741.91 92.56,743.72 92.72,745.49 92.89,747.16 93.06,748.69 93.22,750.06 93.39,751.25 93.56,752.28 93.72,753.15 93.89,753.87 94.06,754.45 94.23,754.92 94.39,755.29 94.56,755.56 94.73,755.76 94.89,755.91 95.06,756.01 95.23,756.08 95.39,756.12 95.56,756.13 95.73,756.13 95.89,756.12 96.06,756.10 96.23,756.08 96.40,756.05 96.56,756.01 96.73,755.97 96.90,755.93 97.06,755.89 97.23,755.85 97.40,755.81 97.56,755.77 97.73,755.73 97.90,755.69 98.06,755.64 98.23,755.60 98.40,755.56 98.56,755.51 98.73,755.47 98.90,755.43 99.07,755.39 99.23,755.34 99.40,755.30 99.57,755.26 99.73,755.22 99.90,755.17 100.07,755.13 100.23,755.09 100.40,755.04 100.57,755.00 100.73,754.96 100.90,754.91 101.07,754.87 101.24,754.82 101.40,754.77 101.57,754.72 101.74,754.66 101.90,754.59 102.07,754.51 102.24,754.42 102.40,754.32 102.57,754.19 102.74,754.03 102.90,753.84 103.07,753.61 103.24,753.34 103.41,753.03 103.57,752.69 103.74,752.32 103.91,751.94 104.07,751.60 104.24,751.32 104.41,751.23 104.57,751.38 104.74,751.61 104.91,751.87 105.07,752.10 105.24,752.27 105.41,752.34 105.57,752.28 105.74,752.03 105.91,751.53 106.08,750.70 106.24,749.48 106.41,747.77 106.58,745.51 106.74,742.65 106.91,739.25 107.08,735.46 107.24,731.57 107.41,728.11 107.58,725.93 107.74,726.36 107.91,727.65 108.08,729.36 108.25,731.32 108.41,733.41 108.58,735.53 108.75,737.61 108.91,739.59 109.08,741.44 109.25,743.13 109.41,744.64 109.58,745.98 109.75,747.14 109.91,748.14 110.08,748.98 110.25,749.68 110.41,750.25 110.58,750.72 110.75,751.14 110.92,751.50 111.08,751.79 111.25,752.03 111.42,752.22 111.58,752.38 111.75,752.50 111.92,752.60 112.08,752.69 112.25,752.76 112.42,752.82 112.58,752.87 112.75,752.92 112.92,752.96 113.09,752.99 113.25,753.03 113.42,753.06 113.59,753.09 113.75,753.12 113.92,753.15 114.09,753.18 114.25,753.20 114.42,753.23 114.59,753.26 114.75,753.28 114.92,753.31 115.09,753.33 115.26,753.35 115.42,753.37 115.59,753.38 115.76,753.39 115.92,753.40 116.09,753.39 116.26,753.37 116.42,753.34 116.59,753.24 116.76,753.11 116.92,752.96 117.09,752.77 117.26,752.56 117.42,752.31 117.59,752.02 117.76,751.70 117.93,751.35 118.09,750.99 118.26,750.64 118.43,750.30 118.59,750.03 118.76,749.87 118.93,749.91 119.09,750.03 119.26,750.19 119.43,750.37 119.59,750.57 119.76,750.78 119.93,750.99 120.10,751.19 120.26,751.37 120.43,751.55 120.60,751.71 120.76,751.85 120.93,751.97 121.10,752.08 121.26,752.17 121.43,752.25 121.60,752.31 121.76,752.36 121.93,752.39 122.10,752.42 122.26,752.43 122.43,752.45 122.60,752.46 122.77,752.46 122.93,752.46 123.10,752.45 123.27,752.44 123.43,752.43 123.60,752.41 123.77,752.38 123.93,752.35 124.10,752.30 124.27,752.23 124.43,752.13 124.60,751.99 124.77,751.79 124.94,751.52 125.10,751.15 125.27,750.68 125.44,750.08 125.60,749.37 125.77,748.58 125.94,747.76 126.10,747.01 126.27,746.49 126.44,746.58 126.60,747.04 126.77,747.64 126.94,748.28 127.11,748.92 127.27,749.50 127.44,750.02 127.61,750.45 127.77,750.79 127.94,751.05 128.11,751.24 128.27,751.35 128.44,751.39 128.61,751.35 128.77,751.24 128.94,751.05 129.11,750.75 129.27,750.34 129.44,749.80 129.61,749.14 129.78,748.38 129.94,747.57 130.11,746.78 130.28,746.14 130.44,745.98 130.61,746.35 130.78,746.90 130.94,747.54 131.11,748.18 131.28,748.79 131.44,749.33 131.61,749.79 131.78,750.16 131.95,750.45 132.11,750.65 132.28,750.78 132.45,750.84 132.61,750.83 132.78,750.74 132.95,750.58 133.11,750.32 133.28,749.95 133.45,749.46 133.61,748.83 133.78,748.04 133.95,747.09 134.11,745.99 134.28,744.75 134.45,743.43 134.62,742.10 134.78,740.90 134.95,740.03 135.12,739.90 135.28,740.29 135.45,740.86 135.62,741.55 135.78,742.30 135.95,743.10 136.12,743.90 136.28,744.70 136.45,745.46 136.62,746.17 136.79,746.84 136.95,747.45 137.12,748.00 137.29,748.49 137.45,748.92 137.62,749.30 137.79,749.63 137.95,749.91 138.12,750.14 138.29,750.34 138.45,750.51 138.62,750.64 138.79,750.75 138.96,750.84 139.12,750.92 139.29,750.97 139.46,751.01 139.62,751.04 139.79,751.05 139.96,751.05 140.12,751.03 140.29,750.99 140.46,750.93 140.62,750.83 140.79,750.69 140.96,750.51 141.12,750.27 141.29,749.97 141.46,749.60 141.63,749.15 141.79,748.65 141.96,748.11 142.13,747.55 142.29,747.03 142.46,746.62 142.63,746.47 142.79,746.65 142.96,746.96 143.13,747.33 143.29,747.74 143.46,748.15 143.63,748.56 143.80,748.93 143.96,749.27 144.13,749.57 144.30,749.81 144.46,750.00 144.63,750.13 144.80,750.20 144.96,750.21 145.13,750.15 145.30,750.02 145.46,749.81 145.63,749.53 145.80,749.19 145.96,748.80 146.13,748.37 146.30,747.96 146.47,747.60 146.63,747.37 146.80,747.49 146.97,747.82 147.13,748.22 147.30,748.65 147.47,749.05 147.63,749.42 147.80,749.72 147.97,749.95 148.13,750.11 148.30,750.20 148.47,750.21 148.64,750.17 148.80,750.06 148.97,749.89 149.14,749.63 149.30,749.33 149.47,748.97 149.64,748.58 149.80,748.16 149.97,747.72 150.14,747.27 150.30,746.86 150.47,746.49 150.64,746.23 150.81,746.17 150.97,746.30 151.14,746.50 151.31,746.76 151.47,747.05 151.64,747.35 151.81,747.65 151.97,747.96 152.14,748.24 152.31,748.51 152.47,748.76 152.64,748.99 152.81,749.19 152.97,749.37 153.14,749.52 153.31,749.65 153.48,749.75 153.64,749.84 153.81,749.91 153.98,749.96 154.14,750.00 154.31,750.03 154.48,750.05 154.64,750.06 154.81,750.06 154.98,750.05 155.14,750.04 155.31,750.02 155.48,749.99 155.65,749.96 155.81,749.92 155.98,749.86 156.15,749.80 156.31,749.71 156.48,749.60 156.65,749.46 156.81,749.27 156.98,749.03 157.15,748.70 157.31,748.31 157.48,747.79 157.65,747.11 157.82,746.21 157.98,745.05 158.15,743.59 158.32,741.75 158.48,739.47 158.65,736.69 158.82,733.34 158.98,729.38 159.15,724.77 159.32,719.50 159.48,713.60 159.65,707.14 159.82,700.26 159.98,693.16 160.15,686.13 160.32,679.57 160.49,673.98 160.65,670.15 160.82,669.93 160.99,672.08 161.15,675.22 161.32,679.03 161.49,683.29 161.65,687.85 161.82,692.57 161.99,697.33 162.15,702.04 162.32,706.63 162.49,711.04 162.66,715.22 162.82,719.14 162.99,722.78 163.16,726.13 163.32,729.19 163.49,731.96 163.66,734.44 163.82,736.66 163.99,738.62 164.16,740.34 164.32,741.85 164.49,743.17 164.66,744.30 164.82,745.28 164.99,746.11 165.16,746.82 165.33,747.42 165.49,747.93 165.66,748.35 165.83,748.70 165.99,749.00 166.16,749.24 166.33,749.45 166.49,749.61 166.66,749.74 166.83,749.85 166.99,749.93 167.16,750.00 167.33,750.06 167.50,750.10 167.66,750.14 167.83,750.16 168.00,750.18 168.16,750.19 168.33,750.20 168.50,750.20 168.66,750.18 168.83,750.16 169.00,750.12 169.16,750.06 169.33,749.97 169.50,749.84 169.67,749.66 169.83,749.42 170.00,749.08 170.17,748.62 170.33,748.01 170.50,747.21 170.67,746.16 170.83,744.81 171.00,743.09 171.17,740.92 171.33,738.22 171.50,734.92 171.67,730.93 171.83,726.19 172.00,720.63 172.17,714.25 172.34,707.05 172.50,699.12 172.67,690.59 172.84,681.70 173.00,672.77 173.17,664.25 173.34,656.74 173.50,651.08 173.67,649.07 173.84,650.60 174.00,653.16 174.17,656.42 174.34,660.22 174.51,664.41 174.67,668.88 174.84,673.53 175.01,678.29 175.17,683.08 175.34,687.84 175.51,692.52 175.67,697.08 175.84,701.49 176.01,705.71 176.17,709.72 176.34,713.51 176.51,717.08 176.67,720.40 176.84,723.49 177.01,726.35 177.18,728.97 177.34,731.37 177.51,733.56 177.68,735.55 177.84,737.34 178.01,738.95 178.18,740.39 178.34,741.68 178.51,742.83 178.68,743.84 178.84,744.74 179.01,745.53 179.18,746.22 179.35,746.82 179.51,747.35 179.68,747.81 179.85,748.20 180.01,748.54 180.18,748.84 180.35,749.09 180.51,749.33 180.68,749.55 180.85,749.74 181.01,749.91 181.18,750.05 181.35,750.18 181.52,750.30 181.68,750.40 181.85,750.49 182.02,750.57 182.18,750.64 182.35,750.71 182.52,750.77 182.68,750.82 182.85,750.88 183.02,750.93 183.18,750.97 183.35,751.02 183.52,751.06 183.68,751.10 183.85,751.14 184.02,751.18 184.19,751.22 184.35,751.26 184.52,751.30 184.69,751.33 184.85,751.37 185.02,751.40 185.19,751.44 185.35,751.48 185.52,751.51 185.69,751.55 185.85,751.58 186.02,751.62 186.19,751.65 186.36,751.69 186.52,751.72 186.69,751.76 186.86,751.79 187.02,751.82 187.19,751.85 187.36,751.88 187.52,751.91 187.69,751.93 187.86,751.95 188.02,751.95 188.19,751.95 188.36,751.92 188.52,751.88 188.69,751.76 188.86,751.61 189.03,751.42 189.19,751.19 189.36,750.93 189.53,750.62 189.69,750.28 189.86,749.94 190.03,749.60 190.19,749.32 190.36,749.15 190.53,749.19 190.69,749.30 190.86,749.44 191.03,749.61 191.20,749.79 191.36,749.98 191.53,750.16 191.70,750.35 191.86,750.52 192.03,750.68 192.20,750.82 192.36,750.96 192.53,751.07 192.70,751.18 192.86,751.26 193.03,751.34 193.20,751.40 193.37,751.45 193.53,751.49 193.70,751.52 193.87,751.54 194.03,751.55 194.20,751.56 194.37,751.56 194.53,751.55 194.70,751.54 194.87,751.52 195.03,751.48 195.20,751.44 195.37,751.38 195.53,751.31 195.70,751.21 195.87,751.09 196.04,750.93 196.20,750.72 196.37,750.46 196.54,750.13 196.70,749.70 196.87,749.17 197.04,748.49 197.20,747.65 197.37,746.60 197.54,745.31 197.70,743.72 197.87,741.81 198.04,739.51 198.21,736.74 198.37,733.45 198.54,729.56 198.71,725.01 198.87,719.74 199.04,713.68 199.21,706.81 199.37,699.09 199.54,690.53 199.71,681.17 199.87,671.06 200.04,660.34 200.21,649.17 200.37,637.79 200.54,626.52 200.71,615.73 200.88,605.92 201.04,597.71 201.21,592.02 201.38,590.94 201.54,592.32 201.71,594.43 201.88,597.08 202.04,600.19 202.21,603.66 202.38,607.45 202.54,611.49 202.71,615.75 202.88,620.17 203.05,624.73 203.21,629.39 203.38,634.11 203.55,638.87 203.71,643.64 203.88,648.41 204.05,653.14 204.21,657.81 204.38,662.42 204.55,666.95 204.71,671.38 204.88,675.71 205.05,679.91 205.22,683.99 205.38,687.94 205.55,691.75 205.72,695.42 205.88,698.95 206.05,702.33 206.22,705.56 206.38,708.64 206.55,711.58 206.72,714.38 206.88,717.03 207.05,719.54 207.22,721.91 207.38,724.15 207.55,726.27 207.72,728.25 207.89,730.12 208.05,731.87 208.22,733.51 208.39,735.04 208.55,736.47 208.72,737.80 208.89,739.04 209.05,740.20 209.22,741.27 209.39,742.26 209.55,743.17 209.72,744.00 209.89,744.77 210.06,745.48 210.22,746.13 210.39,746.72 210.56,747.27 210.72,747.78 210.89,748.24 211.06,748.66 211.22,749.04 211.39,749.39 211.56,749.71 211.72,750.00 211.89,750.26 212.06,750.50 212.23,750.72 212.39,750.91 212.56,751.09 212.73,751.25 212.89,751.40 213.06,751.53 213.23,751.64 213.39,751.75 213.56,751.84 213.73,751.93 213.89,752.00 214.06,752.07 214.23,752.13 214.39,752.19 214.56,752.24 214.73,752.28 214.90,752.32 215.06,752.35 215.23,752.38 215.40,752.41 215.56,752.44 215.73,752.46 215.90,752.47 216.06,752.49 216.23,752.50 216.40,752.52 216.56,752.53 216.73,752.53 216.90,752.54 217.07,752.54 217.23,752.54 217.40,752.53 217.57,752.52 217.73,752.51 217.90,752.49 218.07,752.45 218.23,752.41 218.40,752.35 218.57,752.26 218.73,752.15 218.90,751.96 219.07,751.73 219.23,751.44 219.40,751.08 219.57,750.64 219.74,750.10 219.90,749.43 220.07,748.61 220.24,747.61 220.40,746.39 220.57,744.92 220.74,743.15 220.90,741.04 221.07,738.54 221.24,735.61 221.40,732.19 221.57,728.24 221.74,723.73 221.91,718.63 222.07,712.92 222.24,706.61 222.41,699.73 222.57,692.33 222.74,684.50 222.91,676.38 223.07,668.15 223.24,660.04 223.41,652.33 223.57,645.40 223.74,639.71 223.91,636.00 224.08,635.93 224.24,637.59 224.41,640.01 224.58,643.00 224.74,646.43 224.91,650.21 225.08,654.25 225.24,658.49 225.41,662.87 225.58,667.33 225.74,671.83 225.91,676.32 226.08,680.77 226.24,685.15 226.41,689.42 226.58,693.57 226.75,697.58 226.91,701.43 227.08,705.12 227.25,708.62 227.41,711.94 227.58,715.08 227.75,718.03 227.91,720.79 228.08,723.36 228.25,725.76 228.41,727.98 228.58,730.03 228.75,731.91 228.92,733.65 229.08,735.23 229.25,736.67 229.42,737.99 229.58,739.17 229.75,740.25 229.92,741.21 230.08,742.08 230.25,742.85 230.42,743.54 230.58,744.15 230.75,744.69 230.92,745.16 231.08,745.57 231.25,745.91 231.42,746.20 231.59,746.49 231.75,746.80 231.92,747.05 232.09,747.25 232.25,747.39 232.42,747.46 232.59,747.46 232.75,747.37 232.92,747.18 233.09,746.89 233.25,746.47 233.42,745.91 233.59,745.21 233.76,744.34 233.92,743.30 234.09,742.09 234.26,740.72 234.42,739.21 234.59,737.60 234.76,735.94 234.92,734.31 235.09,732.81 235.26,731.56 235.42,730.79 235.59,730.88 235.76,731.29 235.93,731.85 236.09,732.50 236.26,733.24 236.43,734.04 236.59,734.88 236.76,735.76 236.93,736.65 237.09,737.56 237.26,738.47 237.43,739.37 237.59,740.26 237.76,741.13 237.93,741.98 238.09,742.80 238.26,743.58 238.43,744.34 238.60,745.06 238.76,745.75 238.93,746.40 239.10,747.01 239.26,747.59 239.43,748.14 239.60,748.64 239.76,749.11 239.93,749.55 240.10,749.95 240.26,750.32 240.43,750.67 240.60,750.99 240.77,751.29 240.93,751.56 241.10,751.81 241.27,752.05 241.43,752.26 241.60,752.46 241.77,752.65 241.93,752.82 242.10,752.98 242.27,753.13 242.43,753.27 242.60,753.41 242.77,753.53 242.93,753.65 243.10,753.76 243.27,753.86 243.44,753.96 243.60,754.06 243.77,754.15 243.94,754.24 244.10,754.32 244.27,754.41 244.44,754.49 244.60,754.57 244.77,754.65 244.94,754.72 245.10,754.80 245.27,754.87 245.44,754.94 245.61,754.99 245.77,755.03 245.94,755.06 246.11,755.10 246.27,755.14 246.44,755.17 246.61,755.21 246.77,755.24 246.94,755.28 247.11,755.31 247.27,755.35 247.44,755.38 247.61,755.42 247.78,755.45 247.94,755.48 248.11,755.52 248.28,755.55 248.44,755.59 248.61,755.62 248.78,755.66 248.94,755.69 249.11,755.72 249.28,755.76 249.44,755.79 249.61,755.83 249.78,755.86 249.94,755.89 250.11,755.93 250.28,755.96 250.45,756.00 250.61,756.03 250.78,756.06 250.95,756.10 251.11,756.13 251.28,756.17 251.45,756.20 251.61,756.23 251.78,756.27 251.95,756.30 252.11,756.34 252.28,756.37 252.45,756.40 252.62,756.40 252.78,756.40 252.95,756.40 253.12,756.40 253.28,756.40 253.45,756.40 253.62,756.40 253.78,756.40 253.95,756.40 254.12,756.40 254.28,756.40 254.45,756.40 254.62,756.40 254.78,756.40 254.95,756.40 255.12,756.40 255.29,756.40 255.45,756.40 255.62,756.40 255.79,756.40 255.95,756.40 256.12,756.40 256.29,756.40 256.45,756.40 256.62,756.40 256.79,756.40 256.95,756.40 257.12,756.40 257.29,756.40 257.46,756.40 257.62,756.40 257.79,756.40 257.96,756.40 258.12,756.40 258.29,756.40 258.46,756.40 258.62,756.40 258.79,756.40 258.96,756.40 259.12,756.40 259.29,756.40 259.46,756.40 259.63,756.40 259.79,756.40 259.96,756.40 260.13,756.40 260.29,756.40 260.46,756.40 260.63,756.40 260.79,756.40 260.96,756.40 261.13,756.40 261.29,756.40 261.46,756.40 261.63,756.40 261.79,756.40 261.96,756.40 262.13,756.40 262.30,756.40 262.46,756.40 262.63,756.40 262.80,756.40 262.96,756.40 263.13,756.40 263.30,756.40 263.46,756.40 263.63,756.40 263.80,756.40 263.96,756.40 264.13,756.40 264.30,756.40 264.47,756.40 264.63,756.40 264.80,756.40 264.97,756.40 265.13,756.40 265.30,756.40 265.47,756.40 265.63,756.40 265.80,756.40 265.97,756.40 266.13,756.40 266.30,756.40 266.47,756.40 266.63,756.40 266.80,756.40 266.97,756.40 267.14,756.40 267.30,756.40 267.47,756.40 267.64,756.40 267.80,756.40 267.97,756.40 268.14,756.40 268.30,756.40 268.47,756.40 268.64,756.40 268.80,756.40 268.97,756.40 269.14,756.40 269.31,756.40 269.47,756.40 269.64,756.40 269.81,756.40 269.97,756.40 270.14,756.40 270.31,756.40 270.47,756.40 270.64,756.40 270.81,756.40 270.97,756.40 271.14,756.39 271.31,756.39 271.48,756.39 271.64,756.38 271.81,756.37 271.98,756.37 272.14,756.36 272.31,756.35 272.48,756.33 272.64,756.32 272.81,756.30 272.98,756.27 273.14,756.24 273.31,756.21 273.48,756.16 273.64,756.10 273.81,756.03 273.98,755.95 274.15,755.86 274.31,755.77 274.48,755.66 274.65,755.54 274.81,755.41 274.98,755.27 275.15,755.12 275.31,754.95 275.48,754.77 275.65,754.58 275.81,754.39 275.98,754.18 276.15,753.97 276.32,753.76 276.48,753.54 276.65,753.33 276.82,753.14 276.98,752.96 277.15,752.80 277.32,752.69 277.48,752.64 277.65,752.65 277.82,752.70 277.98,752.76 278.15,752.84 278.32,752.93 278.49,753.02 278.65,753.12 278.82,753.23 278.99,753.34 279.15,753.45 279.32,753.56 279.49,753.68 279.65,753.79 279.82,753.89 279.99,754.00 280.15,754.10 280.32,754.19 280.49,754.28 280.65,754.37 280.82,754.45 280.99,754.52 281.16,754.59 281.32,754.66 281.49,754.71 281.66,754.77 281.82,754.82 281.99,754.86 282.16,754.90 282.32,754.93 282.49,754.96 282.66,754.99 282.82,755.01 282.99,755.03 283.16,755.04 283.33,755.06 283.49,755.06 283.66,755.07 283.83,755.07 283.99,755.08 284.16,755.08 284.33,755.07 284.49,755.07 284.66,755.06 284.83,755.05 284.99,755.05 285.16,755.04 285.33,755.03 285.49,755.01 285.66,755.00 285.83,754.99 286.00,754.97 286.16,754.96" fill="none" stroke="#333" stroke-width="1.0" stroke-linejoin="round" stroke-linecap="round" />
<text x="307.50" y="569.00" font-size="10" font-weight="bold" text-anchor="start" fill="#000" >H</text>
<text x="439.20" y="583.60" font-size="12.4" font-weight="bold" text-anchor="middle" fill="#000" >Flag-Imd</text>
<line x1="379.20" y1="591.30" x2="499.40" y2="591.30" stroke="#000" stroke-width="1.6" />
<text transform="translate(395.00,631.40) rotate(-90)" font-size="12.3" font-weight="bold" text-anchor="start" >Buffer</text>
<text transform="translate(415.50,631.40) rotate(-90)" font-size="12.3" font-weight="bold" text-anchor="start" >TFs</text>
<text transform="translate(434.90,631.40) rotate(-90)" font-size="12.3" font-weight="bold" text-anchor="start" >TF1</text>
<text transform="translate(455.40,631.40) rotate(-90)" font-size="12.3" font-weight="bold" text-anchor="start" >TF2a</text>
<text transform="translate(475.40,631.40) rotate(-90)" font-size="12.3" font-weight="bold" text-anchor="start" >TF2b</text>
<text transform="translate(496.70,631.40) rotate(-90)" font-size="12.3" font-weight="bold" text-anchor="start" >TF3</text>
<text x="307.10" y="648.30" font-size="12.4" font-weight="bold" text-anchor="start" fill="#000" >SDD-AGE:</text>
<text x="307.10" y="664.00" font-size="12.4" font-weight="bold" text-anchor="start" fill="#000" >WB:Flag</text>
<rect x="372.60" y="638.00" width="130.80" height="145.80" fill="#efefef" stroke="none" stroke-width="1" />
<g clip-path="url(#cH)">
<linearGradient id="lg11" gradientUnits="userSpaceOnUse" x1="0" y1="672" x2="0" y2="784"><stop offset="0.000" stop-color="#efefef"/><stop offset="0.143" stop-color="#c8c8c8"/><stop offset="0.250" stop-color="#999"/><stop offset="0.357" stop-color="#222"/><stop offset="0.473" stop-color="#111"/><stop offset="0.607" stop-color="#000"/><stop offset="0.902" stop-color="#000"/><stop offset="0.946" stop-color="#aaa"/><stop offset="1.000" stop-color="#e0e0e0"/></linearGradient>
<rect x="380.5" y="672" width="16.5" height="112" rx="3" fill="url(#lg11)" filter="url(#b2)"/>
<ellipse cx="388.5" cy="725" rx="1.8" ry="9" fill="#444" filter="url(#b2)"/>
<linearGradient id="lg12" gradientUnits="userSpaceOnUse" x1="0" y1="700" x2="0" y2="780"><stop offset="0.000" stop-color="#efefef"/><stop offset="0.188" stop-color="#cfcfcf"/><stop offset="0.500" stop-color="#bbb"/><stop offset="0.900" stop-color="#b5b5b5"/><stop offset="1.000" stop-color="#e8e8e8"/></linearGradient>
<rect x="400.5" y="700" width="7.0" height="80" rx="2" fill="url(#lg12)" filter="url(#b2)"/>
<linearGradient id="lg13" gradientUnits="userSpaceOnUse" x1="0" y1="700" x2="0" y2="778"><stop offset="0.000" stop-color="#efefef"/><stop offset="0.256" stop-color="#cacaca"/><stop offset="0.513" stop-color="#aaa"/><stop offset="0.833" stop-color="#a8a8a8"/><stop offset="1.000" stop-color="#e8e8e8"/></linearGradient>
<rect x="406.5" y="700" width="7.5" height="78" rx="2" fill="url(#lg13)" filter="url(#b2)"/>
<linearGradient id="lg14" gradientUnits="userSpaceOnUse" x1="0" y1="695" x2="0" y2="778"><stop offset="0.000" stop-color="#efefef"/><stop offset="0.205" stop-color="#bbb"/><stop offset="0.361" stop-color="#999"/><stop offset="0.602" stop-color="#aaa"/><stop offset="0.843" stop-color="#999"/><stop offset="1.000" stop-color="#e0e0e0"/></linearGradient>
<rect x="421" y="695" width="7.5" height="83" rx="2" fill="url(#lg14)" filter="url(#b2)"/>
<linearGradient id="lg15" gradientUnits="userSpaceOnUse" x1="0" y1="695" x2="0" y2="778"><stop offset="0.000" stop-color="#efefef"/><stop offset="0.120" stop-color="#c5c5c5"/><stop offset="0.325" stop-color="#888"/><stop offset="0.542" stop-color="#a5a5a5"/><stop offset="0.904" stop-color="#aaa"/><stop offset="1.000" stop-color="#e4e4e4"/></linearGradient>
<rect x="427.5" y="695" width="7.0" height="83" rx="2" fill="url(#lg15)" filter="url(#b2)"/>
<linearGradient id="lg16" gradientUnits="userSpaceOnUse" x1="0" y1="695" x2="0" y2="778"><stop offset="0.000" stop-color="#efefef"/><stop offset="0.205" stop-color="#b5b5b5"/><stop offset="0.422" stop-color="#999"/><stop offset="0.783" stop-color="#999"/><stop offset="1.000" stop-color="#e4e4e4"/></linearGradient>
<rect x="440" y="695" width="7" height="83" rx="2" fill="url(#lg16)" filter="url(#b2)"/>
<linearGradient id="lg17" gradientUnits="userSpaceOnUse" x1="0" y1="690" x2="0" y2="778"><stop offset="0.000" stop-color="#efefef"/><stop offset="0.170" stop-color="#c0c0c0"/><stop offset="0.398" stop-color="#a5a5a5"/><stop offset="0.625" stop-color="#b5b5b5"/><stop offset="1.000" stop-color="#e4e4e4"/></linearGradient>
<rect x="449" y="690" width="7" height="88" rx="2" fill="url(#lg17)" filter="url(#b2)"/>
<linearGradient id="lg18" gradientUnits="userSpaceOnUse" x1="0" y1="695" x2="0" y2="780"><stop offset="0.000" stop-color="#efefef"/><stop offset="0.176" stop-color="#bbb"/><stop offset="0.353" stop-color="#888"/><stop offset="0.588" stop-color="#999"/><stop offset="0.882" stop-color="#a0a0a0"/><stop offset="1.000" stop-color="#e4e4e4"/></linearGradient>
<rect x="461.5" y="695" width="6.5" height="85" rx="2" fill="url(#lg18)" filter="url(#b2)"/>
<linearGradient id="lg19" gradientUnits="userSpaceOnUse" x1="0" y1="695" x2="0" y2="775"><stop offset="0.000" stop-color="#efefef"/><stop offset="0.212" stop-color="#c0c0c0"/><stop offset="0.438" stop-color="#999"/><stop offset="0.750" stop-color="#aaa"/><stop offset="1.000" stop-color="#e4e4e4"/></linearGradient>
<rect x="470.5" y="695" width="7.0" height="80" rx="2" fill="url(#lg19)" filter="url(#b2)"/>
<linearGradient id="lg20" gradientUnits="userSpaceOnUse" x1="0" y1="690" x2="0" y2="778"><stop offset="0.000" stop-color="#efefef"/><stop offset="0.170" stop-color="#bbb"/><stop offset="0.398" stop-color="#888"/><stop offset="0.682" stop-color="#999"/><stop offset="0.852" stop-color="#999"/><stop offset="1.000" stop-color="#e0e0e0"/></linearGradient>
<rect x="482" y="690" width="7" height="88" rx="2" fill="url(#lg20)" filter="url(#b2)"/>
<linearGradient id="lg21" gradientUnits="userSpaceOnUse" x1="0" y1="690" x2="0" y2="778"><stop offset="0.000" stop-color="#efefef"/><stop offset="0.227" stop-color="#c5c5c5"/><stop offset="0.455" stop-color="#a0a0a0"/><stop offset="0.795" stop-color="#aaa"/><stop offset="1.000" stop-color="#e4e4e4"/></linearGradient>
<rect x="489.5" y="690" width="7.0" height="88" rx="2" fill="url(#lg21)" filter="url(#b2)"/>
<ellipse cx="387.5" cy="690.5" rx="0.9" ry="0.9" fill="#222"/>
<ellipse cx="426" cy="694" rx="1.3" ry="0.7" fill="#444"/>
</g>
<rect x="372.60" y="638.00" width="130.80" height="145.80" fill="none" stroke="#000" stroke-width="1.6" />
<rect x="372.60" y="800.40" width="130.80" height="26.60" fill="#f0f0f0" stroke="none" stroke-width="1" />
<g clip-path="url(#cHs)">
<rect x="374.1" y="809.6" width="17.5" height="9.4" rx="5" ry="4.7" fill="#000" filter="url(#b1)"/>
<rect x="395.1" y="809.6" width="17.5" height="9.4" rx="5" ry="4.7" fill="#000" filter="url(#b1)"/>
<rect x="416.2" y="809.6" width="17.5" height="9.4" rx="5" ry="4.7" fill="#000" filter="url(#b1)"/>
<rect x="437.5" y="809.6" width="18" height="9.4" rx="5" ry="4.7" fill="#000" filter="url(#b1)"/>
<rect x="458.4" y="809.6" width="18" height="9.4" rx="5" ry="4.7" fill="#000" filter="url(#b1)"/>
<rect x="480.4" y="809.6" width="18.5" height="9.4" rx="5" ry="4.7" fill="#000" filter="url(#b1)"/>
</g>
<rect x="372.60" y="800.40" width="130.80" height="26.60" fill="none" stroke="#000" stroke-width="1.6" />
<text x="307.10" y="798.20" font-size="12.4" font-weight="bold" text-anchor="start" fill="#000" >SDS-PAGE:</text>
<text x="307.10" y="819.00" font-size="12.4" font-weight="bold" text-anchor="start" fill="#000" >WB:Flag</text>
<line x1="504.10" y1="812.60" x2="509.90" y2="812.60" stroke="#000" stroke-width="1.5" />
<text x="512.00" y="818.50" font-size="12.4" font-weight="bold" text-anchor="start" fill="#000" >40kDa</text>
<text x="554.30" y="568.50" font-size="10" font-weight="bold" text-anchor="start" fill="#000" >I</text>
<line x1="589.80" y1="615.40" x2="589.80" y2="769.90" stroke="#000" stroke-width="1.5" />
<line x1="589.10" y1="769.20" x2="736.00" y2="769.20" stroke="#000" stroke-width="1.5" />
<line x1="585.80" y1="769.20" x2="589.80" y2="769.20" stroke="#000" stroke-width="1.5" />
<text x="580.00" y="773.40" font-size="12.4" font-weight="bold" text-anchor="end" fill="#000" >0</text>
<line x1="585.80" y1="730.75" x2="589.80" y2="730.75" stroke="#000" stroke-width="1.5" />
<text x="580.00" y="734.95" font-size="12.4" font-weight="bold" text-anchor="end" fill="#000" >0.3</text>
<line x1="585.80" y1="692.30" x2="589.80" y2="692.30" stroke="#000" stroke-width="1.5" />
<text x="580.00" y="696.50" font-size="12.4" font-weight="bold" text-anchor="end" fill="#000" >0.6</text>
<line x1="585.80" y1="653.85" x2="589.80" y2="653.85" stroke="#000" stroke-width="1.5" />
<text x="580.00" y="658.05" font-size="12.4" font-weight="bold" text-anchor="end" fill="#000" >0.9</text>
<line x1="585.80" y1="615.40" x2="589.80" y2="615.40" stroke="#000" stroke-width="1.5" />
<text x="580.00" y="619.60" font-size="12.4" font-weight="bold" text-anchor="end" fill="#000" >1.2</text>
<line x1="614.20" y1="769.20" x2="614.20" y2="773.20" stroke="#000" stroke-width="1.5" />
<line x1="638.70" y1="769.20" x2="638.70" y2="773.20" stroke="#000" stroke-width="1.5" />
<line x1="663.40" y1="769.20" x2="663.40" y2="773.20" stroke="#000" stroke-width="1.5" />
<line x1="687.80" y1="769.20" x2="687.80" y2="773.20" stroke="#000" stroke-width="1.5" />
<line x1="712.00" y1="769.20" x2="712.00" y2="773.20" stroke="#000" stroke-width="1.5" />
<line x1="735.50" y1="769.20" x2="735.50" y2="773.20" stroke="#000" stroke-width="1.5" />
<text transform="translate(558.10,691.50) rotate(-90)" font-size="12.4" font-weight="bold" text-anchor="middle" >Relative aggregate level</text>
<rect x="598.75" y="641.83" width="6.90" height="127.37" fill="#6680c4" stroke="#000" stroke-width="1.6" />
<line x1="626.50" y1="716.65" x2="626.50" y2="710.88" stroke="#000" stroke-width="1.5" />
<line x1="624.00" y1="710.88" x2="629.00" y2="710.88" stroke="#000" stroke-width="1.5" />
<rect x="623.05" y="717.45" width="6.90" height="51.75" fill="#6680c4" stroke="#000" stroke-width="1.6" />
<line x1="651.00" y1="718.57" x2="651.00" y2="708.96" stroke="#000" stroke-width="1.5" />
<line x1="648.50" y1="708.96" x2="653.50" y2="708.96" stroke="#000" stroke-width="1.5" />
<rect x="647.55" y="719.37" width="6.90" height="49.83" fill="#6680c4" stroke="#000" stroke-width="1.6" />
<line x1="675.50" y1="715.37" x2="675.50" y2="712.81" stroke="#000" stroke-width="1.5" />
<line x1="673.00" y1="712.81" x2="678.00" y2="712.81" stroke="#000" stroke-width="1.5" />
<rect x="672.05" y="716.17" width="6.90" height="53.03" fill="#6680c4" stroke="#000" stroke-width="1.6" />
<line x1="699.70" y1="715.37" x2="699.70" y2="710.24" stroke="#000" stroke-width="1.5" />
<line x1="697.20" y1="710.24" x2="702.20" y2="710.24" stroke="#000" stroke-width="1.5" />
<rect x="696.25" y="716.17" width="6.90" height="53.03" fill="#6680c4" stroke="#000" stroke-width="1.6" />
<line x1="724.10" y1="712.81" x2="724.10" y2="701.27" stroke="#000" stroke-width="1.5" />
<line x1="721.60" y1="701.27" x2="726.60" y2="701.27" stroke="#000" stroke-width="1.5" />
<rect x="720.65" y="713.61" width="6.90" height="55.59" fill="#6680c4" stroke="#000" stroke-width="1.6" />
<line x1="601.90" y1="634.80" x2="627.80" y2="634.80" stroke="#000" stroke-width="1.6" />
<text x="613.60" y="635.60" font-size="12.4" font-weight="bold" text-anchor="middle" fill="#000" >***</text>
<line x1="601.90" y1="621.60" x2="649.00" y2="621.60" stroke="#000" stroke-width="1.6" />
<text x="624.80" y="622.40" font-size="12.4" font-weight="bold" text-anchor="middle" fill="#000" >***</text>
<line x1="601.90" y1="608.00" x2="674.90" y2="608.00" stroke="#000" stroke-width="1.6" />
<text x="636.60" y="608.80" font-size="12.4" font-weight="bold" text-anchor="middle" fill="#000" >***</text>
<line x1="601.90" y1="594.20" x2="700.80" y2="594.20" stroke="#000" stroke-width="1.6" />
<text x="654.30" y="595.00" font-size="12.4" font-weight="bold" text-anchor="middle" fill="#000" >***</text>
<line x1="601.90" y1="580.00" x2="722.60" y2="580.00" stroke="#000" stroke-width="1.6" />
<text x="667.20" y="580.80" font-size="12.4" font-weight="bold" text-anchor="middle" fill="#000" >***</text>
<text transform="translate(606.80,773.40) rotate(-90)" font-size="12.4" font-weight="bold" text-anchor="end" >Buffer</text>
<text transform="translate(631.00,773.40) rotate(-90)" font-size="12.4" font-weight="bold" text-anchor="end" >TFs</text>
<text transform="translate(656.30,773.40) rotate(-90)" font-size="12.4" font-weight="bold" text-anchor="end" >TF1</text>
<text transform="translate(681.10,773.40) rotate(-90)" font-size="12.4" font-weight="bold" text-anchor="end" >TF2a</text>
<text transform="translate(704.60,773.40) rotate(-90)" font-size="12.4" font-weight="bold" text-anchor="end" >TF2b</text>
<text transform="translate(729.60,773.40) rotate(-90)" font-size="12.4" font-weight="bold" text-anchor="end" >TF3</text>
<line x1="598.00" y1="813.70" x2="731.40" y2="813.70" stroke="#000" stroke-width="1.6" />
<text x="667.20" y="831.70" font-size="12.4" font-weight="bold" text-anchor="middle" fill="#000" >Flag-Imd</text>
</svg></body></html>
